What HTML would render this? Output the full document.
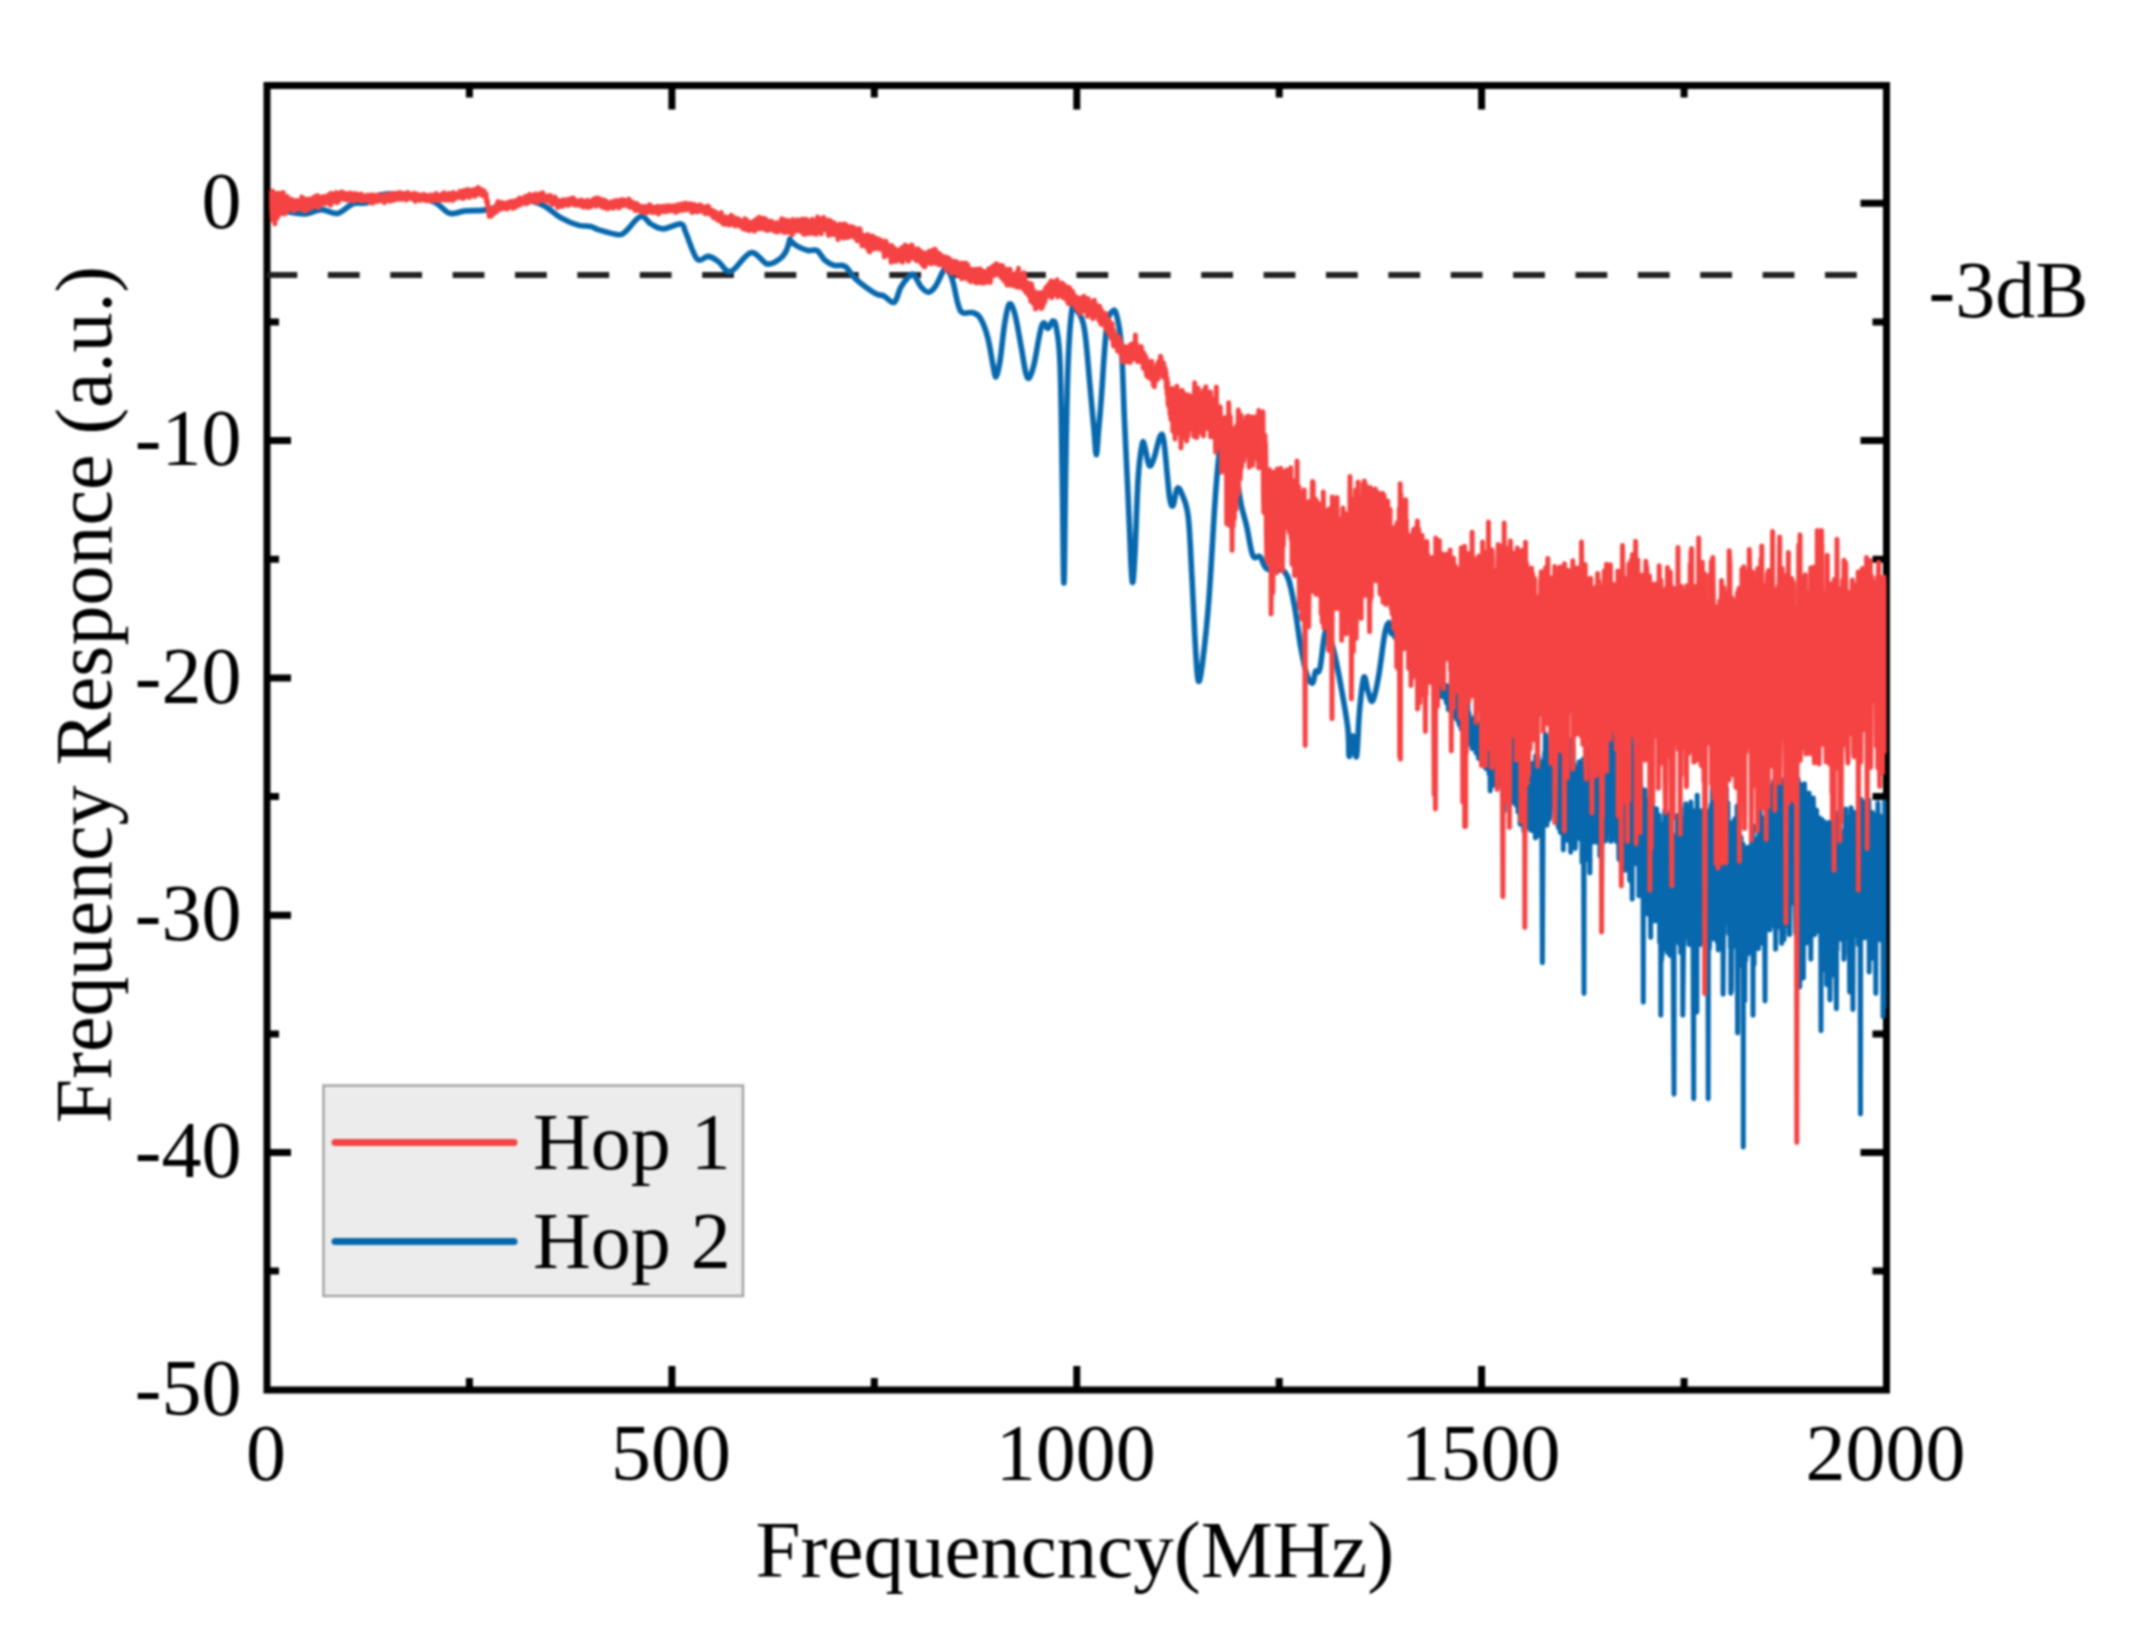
<!DOCTYPE html>
<html lang="en">
<head>
<meta charset="utf-8">
<title>Frequency response</title>
<style>
html,body{margin:0;padding:0;background:#fff;}
body{width:2156px;height:1641px;overflow:hidden;}
svg{display:block;filter:blur(0.9px);}
</style>
</head>
<body>
<svg width="2156" height="1641" viewBox="0 0 2156 1641">
<defs><clipPath id="plot"><rect x="267.0" y="85.5" width="1619.5" height="1304.5"/></clipPath></defs>
<rect width="2156" height="1641" fill="#fff"/>
<g stroke="#000" stroke-width="7" fill="none" stroke-linecap="butt">
<rect x="267.0" y="85.5" width="1619.5" height="1304.5"/>
<path d="M469.4 85.5 v12 M469.4 1390.0 v-12"/>
<path d="M671.9 85.5 v24 M671.9 1390.0 v-24"/>
<path d="M874.3 85.5 v12 M874.3 1390.0 v-12"/>
<path d="M1076.8 85.5 v24 M1076.8 1390.0 v-24"/>
<path d="M1279.2 85.5 v12 M1279.2 1390.0 v-12"/>
<path d="M1481.6 85.5 v24 M1481.6 1390.0 v-24"/>
<path d="M1684.1 85.5 v12 M1684.1 1390.0 v-12"/>
<path d="M267.0 203.3 h24 M1886.5 203.3 h-26"/>
<path d="M267.0 322.0 h12 M1886.5 322.0 h-14"/>
<path d="M267.0 440.6 h24 M1886.5 440.6 h-26"/>
<path d="M267.0 559.2 h12 M1886.5 559.2 h-14"/>
<path d="M267.0 677.9 h24 M1886.5 677.9 h-26"/>
<path d="M267.0 796.5 h12 M1886.5 796.5 h-14"/>
<path d="M267.0 915.2 h24 M1886.5 915.2 h-26"/>
<path d="M267.0 1033.9 h12 M1886.5 1033.9 h-14"/>
<path d="M267.0 1152.5 h24 M1886.5 1152.5 h-26"/>
<path d="M267.0 1271.1 h12 M1886.5 1271.1 h-14"/>
</g>
<line x1="265.5" y1="275" x2="1886.5" y2="275" stroke="#222" stroke-width="6" stroke-dasharray="31.8 30.58" clip-path="url(#plot)"/>
<g clip-path="url(#plot)" fill="none" stroke-linejoin="round" stroke-linecap="round">
<path d="M277.0 210.5C278.4 210.7 280.0 210.8 285.0 211.4C290.1 212.0 298.5 214.2 305.1 213.9C311.6 213.6 315.5 209.7 321.4 209.6C327.2 209.5 332.0 214.4 337.6 213.4C343.3 212.3 347.3 205.8 352.7 203.8C358.1 201.9 362.7 204.2 367.7 202.6C372.7 201.0 373.7 196.5 380.2 195.1C386.8 193.6 394.5 193.5 404.0 194.6C413.5 195.7 424.9 198.1 432.8 201.3C440.7 204.6 443.8 210.5 447.8 212.6C451.9 214.7 452.2 213.4 455.4 213.1C458.5 212.8 460.2 211.4 465.4 210.9C470.6 210.3 477.9 210.9 484.2 210.1C490.5 209.3 493.5 208.2 500.4 206.4C507.4 204.6 515.3 200.3 523.0 200.1C530.7 199.9 536.3 201.9 543.0 205.1C549.8 208.3 554.2 214.0 560.6 217.6C566.9 221.2 572.7 223.6 578.1 225.1C583.5 226.7 587.0 225.6 590.6 226.4C594.2 227.2 593.2 228.2 598.1 229.6C603.1 231.1 613.2 234.3 618.2 234.7C623.1 235.0 621.6 234.7 625.7 231.4C629.7 228.1 636.2 217.7 640.7 216.4C645.2 215.0 646.7 221.6 650.7 223.9C654.8 226.1 657.8 228.9 663.2 228.9C668.7 228.9 676.7 223.2 680.8 223.9C684.8 224.6 682.9 226.3 685.8 232.7C688.7 239.0 693.0 254.7 697.1 259.0C701.1 263.2 704.5 256.0 708.3 256.4C712.2 256.9 714.3 258.8 718.3 261.5C722.4 264.2 725.0 273.1 730.9 271.5C736.7 269.9 744.4 254.0 750.9 252.7C757.4 251.3 762.0 262.8 767.2 264.0C772.4 265.1 776.3 261.2 779.7 259.0C783.1 256.7 784.2 254.8 786.0 251.4C787.8 248.1 789.0 242.2 789.7 240.2C790.5 238.2 788.9 239.3 790.2 240.3C791.5 241.3 793.5 244.0 796.7 245.9C799.9 247.7 804.2 249.7 807.8 250.5C811.5 251.3 814.1 248.8 817.1 250.5C820.1 252.2 821.5 257.1 824.5 259.8C827.5 262.4 830.1 264.2 833.8 265.3C837.5 266.5 841.3 264.1 844.9 266.3C848.6 268.4 850.5 273.7 854.2 277.4C857.9 281.1 861.3 283.7 865.3 286.7C869.4 289.7 873.1 292.4 876.5 294.1C879.8 295.8 880.7 294.5 883.9 296.0C887.1 297.5 891.1 304.0 894.1 302.4C897.1 300.9 898.1 292.1 900.6 287.6C903.1 283.1 905.7 279.7 908.0 277.4C910.4 275.1 911.2 272.9 913.6 274.6C915.9 276.3 918.3 283.5 921.0 286.7C923.7 289.9 925.8 292.4 928.4 292.2C931.1 292.1 933.2 289.6 935.8 285.8C938.5 281.9 941.3 273.9 943.3 270.9C945.3 267.9 945.3 267.4 947.0 269.1C948.6 270.7 950.5 273.8 952.5 280.2C954.5 286.5 956.3 298.5 958.1 304.3C959.9 310.1 960.1 311.2 962.7 312.7C965.4 314.2 969.8 311.7 972.9 312.7C976.1 313.7 977.7 313.7 980.4 318.2C983.0 322.7 985.5 328.8 987.8 337.7C990.1 346.5 991.9 360.4 993.4 367.4C994.9 374.4 995.0 377.7 996.1 376.7C997.3 375.7 998.3 371.2 999.9 361.8C1001.4 352.5 1002.8 335.1 1004.5 324.7C1006.2 314.4 1007.3 306.3 1009.1 304.3C1011.0 302.3 1012.5 305.9 1014.7 313.6C1016.9 321.3 1019.2 336.3 1021.2 347.0C1023.2 357.7 1024.3 367.4 1025.8 372.9C1027.3 378.5 1028.0 379.3 1029.5 377.6C1031.0 375.9 1032.3 371.5 1034.2 363.7C1036.0 355.8 1038.1 341.3 1039.7 334.0C1041.4 326.6 1041.9 323.9 1043.5 322.9C1045.0 321.9 1046.4 328.8 1048.1 328.4C1049.8 328.1 1051.2 321.0 1052.7 321.0C1054.2 321.0 1055.1 320.4 1056.4 328.4C1057.8 336.4 1059.0 338.2 1060.1 365.5C1061.2 392.8 1061.6 440.9 1062.3 480.0C1063.0 519.1 1063.3 583.0 1063.9 583.0C1064.5 583.0 1064.8 519.1 1065.5 480.0C1066.2 440.9 1066.8 397.0 1068.0 366.0C1069.2 335.0 1070.6 318.1 1072.2 308.0C1073.8 297.9 1074.6 306.3 1076.8 310.0C1079.0 313.7 1082.0 315.1 1084.3 328.4C1086.6 341.7 1088.1 365.7 1089.8 384.0C1091.5 402.3 1092.8 417.3 1094.0 430.0C1095.2 442.7 1095.5 454.6 1096.3 454.6C1097.1 454.6 1097.8 439.4 1098.6 430.0C1099.4 420.6 1099.6 420.9 1101.0 402.6C1102.4 384.3 1104.5 344.8 1106.5 328.4C1108.5 312.0 1110.3 314.0 1112.1 311.7C1113.9 309.4 1115.0 309.0 1116.7 315.4C1118.4 321.8 1120.0 328.0 1121.4 347.0C1122.8 366.0 1123.3 395.3 1124.5 421.0C1125.7 446.7 1126.6 464.5 1127.8 490.0C1129.0 515.5 1130.0 546.2 1130.9 562.8C1131.8 579.4 1132.2 584.2 1132.9 582.0C1133.6 579.8 1134.1 569.4 1135.1 550.6C1136.0 531.8 1137.0 496.4 1138.2 477.5C1139.4 458.6 1140.8 451.7 1141.9 445.8C1143.0 439.9 1143.0 441.1 1144.3 444.6C1145.6 448.1 1147.4 462.9 1149.2 465.3C1150.9 467.7 1152.1 463.3 1154.1 458.0C1156.0 452.7 1158.4 439.1 1160.2 436.1C1161.9 433.0 1162.5 433.5 1163.8 440.9C1165.1 448.4 1166.4 467.0 1167.5 477.5C1168.6 488.0 1168.9 494.4 1169.9 499.4C1170.9 504.5 1171.8 507.5 1173.1 505.5C1174.4 503.6 1175.6 490.4 1177.2 488.5C1178.8 486.5 1180.1 489.5 1182.1 494.6C1184.1 499.6 1186.4 502.0 1188.2 516.5C1189.9 531.0 1190.5 551.3 1191.8 575.0C1193.2 598.7 1194.3 629.0 1195.5 648.1C1196.7 667.2 1197.1 678.8 1198.4 681.0C1199.7 683.2 1200.9 675.0 1202.8 660.3C1204.7 645.6 1206.7 627.9 1208.9 599.4C1211.1 570.9 1213.2 527.3 1215.0 501.9C1216.8 476.4 1217.3 470.3 1218.7 458.0C1220.0 445.7 1220.8 439.3 1222.3 433.6C1223.9 427.9 1225.4 425.4 1227.2 426.3C1228.9 427.2 1230.5 431.5 1232.1 438.5C1233.6 445.5 1234.2 453.9 1235.7 465.3C1237.3 476.7 1238.6 490.9 1240.6 501.9C1242.6 512.8 1244.5 516.6 1246.7 526.3C1248.9 535.9 1250.4 550.0 1252.8 555.5C1255.2 561.0 1257.5 554.3 1260.1 556.7C1262.7 559.2 1262.8 566.4 1267.3 569.2C1271.7 571.9 1280.1 566.3 1284.8 572.1C1289.6 577.9 1290.7 587.7 1293.6 601.3C1296.5 615.0 1298.5 635.0 1300.9 648.1C1303.3 661.3 1304.7 668.1 1306.8 674.5C1308.9 680.8 1311.0 683.8 1312.6 683.2C1314.2 682.7 1314.2 674.2 1315.5 671.5C1316.8 668.9 1318.1 676.0 1319.9 668.6C1321.8 661.2 1323.4 634.3 1325.8 630.6C1328.1 626.9 1330.4 638.7 1333.1 648.1C1335.7 657.6 1337.8 669.0 1340.4 683.2C1343.0 697.4 1346.1 713.9 1347.7 727.1C1349.3 740.3 1348.3 754.8 1349.2 756.4C1350.1 757.9 1351.4 735.9 1352.7 735.9C1354.0 735.9 1355.3 760.6 1356.5 756.4C1357.7 752.1 1358.1 726.7 1359.4 712.5C1360.7 698.3 1362.2 681.1 1363.8 677.4C1365.4 673.7 1366.6 687.8 1368.2 692.0C1369.8 696.2 1370.7 703.4 1372.6 700.8C1374.4 698.2 1376.3 689.0 1378.4 677.4C1380.5 665.8 1382.7 645.9 1384.3 636.4C1385.8 627.0 1386.7 626.8 1387.2 624.7" stroke="#0768ad" stroke-width="5.6"/>
<polyline points="1387.2,624.7 1387.5,628.2 1387.6,624.0 1388.7,628.5 1388.8,624.9 1388.9,622.3 1389.6,629.9 1390.0,623.5 1390.3,631.7 1390.5,626.2 1391.1,633.8 1391.4,627.9 1391.7,632.9 1392.4,633.5 1392.7,629.8 1393.1,630.7 1393.6,633.3 1393.7,630.6 1394.0,634.4 1394.6,637.2 1394.9,632.7 1395.7,629.6 1396.0,637.9 1396.7,640.2 1396.8,632.4 1396.9,634.1 1397.1,640.9 1397.8,642.6 1398.1,634.7 1398.7,633.2 1398.8,641.3 1399.3,642.4 1400.0,637.0 1400.5,637.7 1400.8,641.6 1400.9,637.1 1401.5,642.8 1401.7,643.9 1402.1,637.2 1402.5,638.6 1402.9,645.2 1403.5,645.7 1403.6,637.9 1404.5,636.5 1404.7,643.3 1405.1,638.9 1405.6,644.8 1405.9,645.8 1406.2,640.8 1406.5,638.7 1406.9,648.2 1407.3,638.7 1407.4,647.4 1408.1,649.0 1408.6,639.7 1409.1,650.8 1409.5,639.7 1410.0,649.0 1410.3,639.0 1411.0,642.3 1411.2,650.2 1411.4,640.2 1411.5,647.6 1412.1,646.3 1412.2,649.9 1413.2,641.8 1413.6,648.9 1413.8,650.5 1413.9,643.5 1414.8,652.0 1415.2,640.8 1415.3,644.6 1416.0,652.2 1416.5,643.2 1416.6,651.2 1417.1,645.1 1417.2,652.3 1417.9,646.4 1418.0,651.0 1418.6,655.2 1419.2,646.8 1419.5,653.9 1419.8,647.6 1420.3,656.7 1420.4,646.0 1421.1,647.0 1421.6,656.8 1421.7,657.0 1421.9,652.4 1422.5,651.3 1423.1,660.0 1423.4,658.8 1423.8,651.5 1424.1,652.7 1424.4,665.9 1425.2,663.4 1425.3,653.4 1426.0,658.7 1426.2,663.2 1426.7,667.8 1427.1,659.8 1427.4,658.4 1427.8,669.3 1428.3,670.6 1428.5,659.3 1429.1,653.4 1429.6,671.0 1429.8,660.7 1430.4,673.3 1430.7,666.4 1431.1,673.7 1431.4,678.9 1431.9,668.5 1432.1,676.0 1432.3,666.5 1433.0,670.1 1433.5,676.5 1433.7,670.6 1434.2,679.3 1434.7,665.6 1435.0,682.4 1435.6,670.1 1435.7,683.6 1436.3,676.1 1436.4,682.0 1437.2,687.1 1437.3,676.3 1437.7,692.5 1438.2,676.6 1438.5,690.5 1438.7,679.2 1439.4,693.6 1440.0,678.9 1440.2,681.6 1440.6,691.5 1441.2,693.7 1441.4,681.9 1441.8,676.8 1442.0,696.7 1442.7,691.5 1443.0,677.7 1443.6,686.5 1444.0,696.7 1444.6,686.4 1444.7,694.0 1445.2,686.5 1445.6,699.4 1445.8,688.7 1446.3,702.6 1446.7,685.5 1447.1,702.0 1447.6,702.7 1447.9,691.2 1448.3,709.7 1448.7,689.2 1448.9,691.8 1449.2,709.2 1449.9,709.4 1450.1,692.9 1450.5,690.5 1450.6,709.6 1451.3,697.8 1451.6,711.8 1452.6,695.9 1452.7,708.8 1453.2,701.0 1453.5,711.3 1453.7,714.2 1454.2,696.5 1454.6,698.8 1454.7,715.9 1455.4,699.0 1455.7,717.5 1456.7,716.6 1456.8,694.7 1457.1,707.6 1457.3,720.0 1458.2,716.6 1458.3,701.8 1458.6,703.8 1459.0,724.0 1459.4,700.4 1459.6,725.2 1460.1,701.6 1460.4,719.9 1461.2,729.0 1461.3,704.5 1462.0,711.7 1462.3,723.7 1462.9,712.4 1463.2,728.5 1463.4,710.5 1463.7,732.5 1464.2,726.8 1464.8,706.7 1465.1,732.7 1465.5,711.8 1465.9,711.8 1466.2,733.8 1466.7,737.9 1467.0,716.8 1467.3,734.6 1467.7,699.7 1468.5,735.6 1468.7,717.0 1468.9,712.7 1469.3,743.8 1469.9,724.4 1470.4,737.4 1470.5,721.3 1470.7,741.8 1471.3,724.2 1471.7,743.3 1472.4,748.8 1472.6,720.9 1473.2,728.7 1473.4,739.1 1473.9,717.8 1474.0,738.5 1474.6,719.3 1474.7,748.0 1475.3,745.3 1475.7,723.2 1476.1,753.2 1476.7,726.2 1477.3,744.3 1477.6,722.9 1478.2,748.5 1478.4,733.1 1478.5,758.5 1478.6,731.7 1479.5,753.1 1479.9,735.5 1480.6,745.3 1480.8,728.2 1480.9,750.8 1481.3,723.8 1481.9,764.2 1482.1,739.0 1482.7,760.1 1483.0,737.3 1483.3,736.0 1483.8,760.6 1484.5,764.5 1484.6,744.4 1485.3,736.4 1485.4,762.1 1485.7,768.5 1486.2,746.3 1486.5,764.7 1487.0,753.4 1487.4,739.2 1487.6,764.5 1488.2,739.3 1488.5,762.3 1489.1,774.1 1489.3,738.0 1489.8,746.0 1490.2,791.0 1490.6,771.4 1491.1,756.2 1491.8,779.9 1492.0,750.1 1492.2,776.4 1492.7,751.2 1493.1,785.6 1493.3,762.0 1494.2,781.5 1494.4,751.7 1494.7,756.1 1495.0,773.4 1495.6,780.6 1495.7,755.5 1496.3,753.1 1496.7,781.9 1496.9,779.1 1497.5,762.2 1498.0,753.9 1498.3,781.2 1498.7,782.8 1499.1,760.4 1499.7,775.6 1500.0,749.5 1500.3,773.0 1500.6,758.5 1500.9,761.4 1501.1,786.6 1501.7,745.2 1502.3,782.3 1502.6,786.4 1502.8,756.7 1503.6,770.8 1503.9,794.0 1504.1,811.3 1504.2,764.1 1504.9,765.1 1505.2,783.4 1505.9,773.2 1506.0,787.1 1506.5,787.7 1506.8,760.3 1507.6,772.6 1508.0,796.9 1508.6,764.5 1508.7,797.1 1509.0,794.3 1509.1,767.0 1509.9,765.0 1510.4,790.5 1511.0,764.1 1511.2,802.6 1511.4,792.4 1511.6,753.2 1512.4,737.9 1512.8,801.8 1513.1,794.4 1513.6,766.1 1513.8,761.2 1513.9,796.9 1514.5,798.8 1515.0,766.8 1515.4,764.4 1515.7,804.7 1516.1,797.3 1516.5,748.9 1517.1,760.6 1517.6,807.4 1517.8,753.5 1518.0,812.0 1518.6,800.1 1518.7,767.1 1519.3,808.9 1519.9,765.7 1520.1,824.2 1520.5,783.7 1521.4,800.5 1521.6,768.4 1521.7,771.2 1522.0,817.1 1522.6,781.1 1523.0,812.6 1523.4,785.3 1523.8,831.1 1524.2,811.2 1524.3,762.5 1525.3,774.3 1525.6,816.3 1525.7,774.0 1525.8,826.9 1526.7,774.3 1527.2,822.6 1527.5,786.4 1527.9,823.1 1528.1,752.2 1528.3,815.7 1529.1,817.8 1529.3,776.3 1530.0,829.5 1530.4,785.5 1530.5,826.3 1530.8,784.7 1531.4,830.5 1531.6,771.8 1532.4,830.4 1532.5,791.2 1533.1,763.3 1533.6,809.4 1533.7,790.9 1534.0,829.5 1534.5,792.1 1534.9,820.7 1535.4,837.9 1535.7,755.8 1536.1,792.9 1536.8,836.3 1537.0,767.1 1537.1,805.4 1538.1,756.2 1538.3,835.7 1538.8,821.5 1539.2,766.1 1539.5,782.3 1540.0,808.9 1540.1,827.9 1540.8,779.1 1541.1,767.8 1541.3,823.8 1541.7,774.1 1542.4,962.7 1543.0,823.4 1543.2,769.9 1543.3,760.4 1543.4,822.2 1544.1,807.1 1544.7,752.5 1544.9,795.9 1545.4,734.2 1545.7,808.0 1546.2,736.7 1546.5,742.5 1547.0,825.3 1547.6,795.5 1548.0,750.0 1548.1,818.0 1548.6,743.6 1549.0,761.1 1549.2,819.3 1549.9,812.1 1550.1,747.1 1550.6,753.5 1550.9,797.3 1551.4,803.2 1551.7,754.6 1552.1,796.9 1552.5,748.6 1553.3,754.3 1553.6,796.9 1553.7,808.5 1554.1,728.7 1554.9,758.6 1555.0,803.1 1555.3,809.7 1555.5,755.6 1556.1,808.6 1556.5,752.4 1557.0,746.5 1557.3,805.6 1557.7,767.0 1558.4,827.8 1558.6,737.7 1559.2,826.7 1559.5,737.8 1559.6,804.8 1560.3,832.5 1560.5,749.8 1561.0,734.7 1561.2,802.7 1562.2,753.3 1562.4,821.4 1562.6,804.8 1563.1,750.3 1563.3,850.0 1563.4,755.4 1564.1,747.4 1564.4,817.6 1565.3,769.3 1565.6,822.0 1565.7,747.4 1566.0,817.5 1566.6,803.3 1567.0,745.3 1567.7,840.4 1567.9,764.5 1568.4,827.5 1568.8,752.1 1568.9,763.9 1569.4,831.1 1569.7,808.3 1570.3,771.9 1570.7,852.2 1571.2,769.2 1571.5,816.5 1571.6,739.9 1572.4,820.3 1572.5,759.8 1573.1,745.4 1573.6,841.0 1573.8,763.7 1574.2,817.0 1574.5,833.7 1574.6,778.7 1575.3,848.4 1575.6,779.0 1576.1,820.7 1576.8,770.1 1577.4,786.7 1577.5,817.6 1578.1,825.8 1578.4,767.3 1578.6,831.9 1579.2,761.8 1579.4,838.6 1579.8,768.5 1580.1,827.2 1580.2,770.5 1581.1,802.2 1581.5,841.3 1581.9,777.7 1582.0,862.0 1582.9,759.6 1583.0,849.0 1583.3,780.6 1584.0,993.4 1584.1,776.8 1584.6,839.8 1585.0,845.1 1585.3,809.1 1585.8,774.6 1586.1,859.6 1586.8,837.1 1586.9,786.1 1587.4,770.3 1587.5,833.2 1588.6,750.8 1588.8,841.9 1589.4,748.0 1589.6,836.1 1589.9,872.9 1590.3,783.7 1591.0,828.2 1591.2,775.6 1591.7,842.7 1591.9,773.5 1592.4,747.2 1592.8,838.0 1593.3,834.1 1593.4,759.7 1593.8,759.8 1594.1,838.9 1594.6,841.6 1594.7,772.1 1595.5,754.9 1595.7,824.1 1596.2,842.3 1596.4,760.7 1597.0,824.9 1597.2,748.9 1597.7,834.5 1597.8,768.5 1598.5,763.2 1599.0,822.6 1599.4,761.7 1599.9,856.1 1600.4,812.1 1600.8,764.4 1601.1,757.5 1601.6,883.1 1602.1,810.7 1602.2,754.6 1602.5,747.3 1603.2,814.1 1603.9,766.2 1604.0,825.4 1604.7,789.2 1604.8,808.7 1604.9,742.5 1605.5,841.1 1605.7,811.9 1606.2,767.4 1606.6,814.4 1606.8,733.5 1607.4,769.2 1607.7,827.9 1608.4,831.8 1608.8,748.4 1609.3,802.9 1609.4,756.8 1609.7,809.9 1610.0,752.7 1610.7,841.4 1610.9,758.0 1611.8,739.5 1611.9,823.1 1612.3,732.3 1612.6,834.4 1613.0,768.7 1613.5,797.9 1613.8,807.2 1613.9,735.4 1614.8,755.4 1615.0,818.9 1615.8,841.2 1615.9,759.5 1616.3,820.4 1616.5,756.7 1617.3,840.0 1617.5,728.6 1617.9,760.7 1618.4,814.4 1619.0,859.5 1619.2,753.7 1619.5,760.1 1619.7,818.4 1620.3,757.8 1620.8,808.8 1620.9,751.3 1621.4,863.5 1621.7,727.2 1622.4,821.5 1622.9,735.5 1623.0,836.5 1623.4,836.7 1623.6,759.0 1624.6,828.2 1624.7,760.2 1625.1,731.5 1625.2,870.2 1626.0,810.7 1626.4,735.5 1626.5,804.5 1626.8,767.6 1627.3,843.7 1627.9,759.0 1628.4,771.2 1628.7,857.8 1629.3,748.0 1629.4,806.4 1629.7,880.5 1630.1,773.3 1631.1,863.9 1631.2,737.7 1631.3,869.2 1631.6,775.3 1632.2,899.2 1632.3,782.7 1633.3,841.5 1633.5,772.2 1633.7,834.1 1634.3,757.6 1634.5,789.6 1635.0,844.0 1635.5,839.2 1636.0,801.1 1636.3,744.6 1636.7,863.9 1637.4,846.7 1637.6,822.2 1637.9,789.5 1638.0,853.9 1638.8,775.6 1638.9,895.7 1639.7,781.9 1639.9,867.6 1640.2,851.0 1640.4,752.8 1641.1,837.4 1641.4,803.9 1641.8,883.5 1642.0,809.4 1642.5,860.4 1642.9,808.4 1643.3,1002.2 1643.5,796.5 1644.1,858.7 1644.6,789.7 1645.2,878.7 1645.3,828.1 1646.0,820.6 1646.2,878.8 1646.6,816.3 1646.7,891.5 1647.5,800.2 1647.7,913.9 1648.1,821.1 1648.2,914.3 1649.3,839.7 1649.5,896.2 1649.8,818.9 1650.1,877.2 1650.7,937.5 1650.8,808.9 1651.3,900.2 1651.9,803.0 1652.4,801.8 1652.5,881.8 1652.9,840.7 1653.4,899.4 1654.0,848.7 1654.1,918.2 1654.8,827.5 1655.1,921.1 1655.3,883.5 1655.6,832.9 1656.4,872.4 1656.6,808.7 1657.1,892.1 1657.5,837.4 1657.9,917.2 1658.2,842.7 1658.9,916.3 1659.2,815.3 1659.3,863.6 1659.7,942.6 1660.5,840.3 1660.8,1015.3 1661.2,824.1 1661.4,960.7 1662.3,951.8 1662.4,831.6 1662.7,944.5 1662.9,828.2 1663.5,833.2 1663.9,949.2 1664.6,880.8 1664.7,810.4 1665.2,920.9 1665.4,854.9 1665.8,810.4 1666.2,913.2 1667.0,939.5 1667.2,828.6 1667.4,839.7 1667.9,953.1 1668.1,827.5 1668.3,912.8 1668.9,929.4 1669.6,832.9 1669.7,813.5 1670.1,955.5 1670.6,833.3 1671.0,923.4 1671.3,945.3 1671.8,842.0 1672.5,928.0 1672.6,843.2 1672.9,841.7 1673.1,939.5 1674.0,1094.3 1674.2,857.3 1674.7,921.3 1675.2,835.5 1675.3,920.3 1675.9,853.5 1676.4,938.2 1676.7,839.0 1677.4,925.3 1677.5,815.5 1678.2,830.4 1678.4,921.4 1678.7,835.8 1679.2,943.4 1679.6,849.2 1679.8,935.3 1680.6,808.2 1680.7,952.4 1681.2,829.6 1681.3,943.0 1681.9,909.6 1682.4,818.6 1682.6,830.3 1682.8,1015.3 1683.6,939.0 1683.7,833.9 1684.5,841.4 1684.6,911.0 1685.3,862.6 1685.4,937.2 1685.8,803.8 1686.3,923.6 1686.8,918.7 1686.9,810.7 1687.5,908.1 1687.7,839.6 1688.3,926.4 1688.4,828.3 1689.0,944.4 1689.1,857.3 1690.0,811.0 1690.3,944.4 1690.9,802.0 1691.2,934.8 1691.5,912.9 1692.0,863.3 1692.6,904.0 1692.7,810.4 1692.9,847.1 1693.0,935.8 1693.7,1098.7 1693.8,823.9 1694.7,852.5 1694.9,969.4 1695.4,836.9 1695.8,918.2 1696.2,940.8 1696.7,825.0 1696.9,1011.9 1697.2,795.2 1698.0,885.1 1698.3,834.9 1698.5,915.4 1698.6,864.5 1699.5,836.8 1700.0,912.0 1700.3,944.4 1700.8,863.5 1701.4,941.1 1701.5,810.7 1701.7,919.7 1702.4,822.2 1702.5,893.0 1703.0,815.3 1703.9,916.6 1704.0,820.6 1704.3,859.4 1704.6,907.2 1704.9,813.1 1705.5,932.3 1705.9,821.9 1706.4,909.4 1706.6,822.3 1706.8,907.6 1707.6,915.8 1707.8,815.0 1708.2,1098.7 1708.6,811.1 1709.2,825.2 1709.3,948.8 1710.3,927.3 1710.4,814.0 1710.7,889.3 1711.2,809.6 1711.3,804.7 1711.5,890.2 1712.1,903.3 1712.4,768.6 1712.9,812.8 1713.6,938.8 1713.8,848.2 1714.4,785.2 1715.0,782.0 1715.1,930.6 1715.4,799.7 1715.5,906.7 1716.3,791.6 1716.6,898.7 1717.1,941.7 1717.5,792.9 1718.0,827.1 1718.2,950.1 1718.7,888.6 1718.9,795.4 1719.5,900.8 1719.8,783.0 1720.5,798.8 1720.7,929.3 1720.9,869.0 1721.3,779.7 1721.9,927.7 1722.3,835.6 1722.8,780.4 1723.1,994.2 1723.8,880.5 1723.9,812.3 1724.3,921.6 1724.4,845.0 1725.4,905.6 1725.6,792.9 1726.2,922.1 1726.4,788.1 1726.5,878.2 1727.2,807.7 1727.8,902.4 1727.9,803.1 1728.1,849.4 1728.8,933.7 1729.1,831.2 1729.4,885.8 1729.9,843.1 1730.3,947.4 1730.6,823.1 1730.8,993.3 1731.5,989.5 1732.0,851.1 1732.7,936.7 1732.8,822.3 1733.1,826.1 1733.3,913.8 1733.7,938.0 1734.0,844.1 1734.8,818.7 1735.0,935.9 1735.6,824.0 1735.9,923.4 1736.4,822.2 1736.6,947.7 1737.1,806.0 1737.6,1032.9 1738.0,829.7 1738.4,966.6 1738.8,843.0 1739.0,962.0 1739.5,948.6 1739.8,859.9 1740.6,947.5 1740.7,841.0 1741.0,837.0 1741.5,935.1 1742.0,892.3 1742.4,943.8 1742.8,929.5 1743.1,844.1 1743.3,1147.0 1743.4,867.5 1744.5,877.9 1744.7,1000.9 1745.0,891.5 1745.6,958.7 1745.7,960.6 1745.9,871.9 1746.9,944.4 1747.1,860.9 1747.9,954.1 1748.0,847.2 1748.2,873.8 1748.4,915.7 1749.0,926.4 1749.1,853.9 1749.9,919.6 1750.2,859.1 1750.7,853.6 1751.0,922.1 1751.7,834.2 1751.8,945.3 1752.7,917.0 1752.8,825.8 1753.0,1015.3 1753.2,857.5 1754.1,964.5 1754.4,856.7 1754.7,933.6 1755.2,859.2 1755.5,932.5 1755.8,847.9 1756.7,841.3 1756.8,925.5 1757.4,838.6 1757.6,939.4 1757.9,854.3 1758.4,948.8 1758.9,824.3 1759.0,928.8 1759.7,936.9 1760.0,807.1 1760.3,943.5 1760.8,818.9 1761.3,837.6 1761.4,915.9 1761.9,919.8 1762.2,817.8 1762.5,898.3 1763.1,834.7 1763.3,846.5 1763.7,902.4 1764.2,830.8 1764.6,923.2 1765.0,1001.0 1765.4,819.1 1766.1,899.6 1766.4,806.7 1766.5,908.6 1766.9,841.9 1767.4,805.1 1768.0,869.8 1768.2,785.4 1768.8,908.3 1769.0,807.1 1769.6,923.3 1769.7,800.4 1769.9,930.0 1771.0,904.4 1771.1,799.7 1771.5,878.0 1771.9,811.8 1772.7,825.1 1772.8,899.7 1773.0,896.2 1773.1,788.1 1773.9,780.7 1774.1,879.0 1774.5,925.8 1774.7,828.0 1775.5,793.7 1775.6,949.2 1776.3,788.8 1776.7,928.2 1777.2,789.0 1777.6,874.9 1778.2,784.2 1778.4,926.5 1778.5,880.6 1778.8,756.8 1779.4,792.4 1779.7,878.3 1780.3,797.2 1780.4,883.1 1780.9,881.6 1781.1,788.8 1781.7,943.4 1781.8,786.4 1782.5,897.0 1783.0,794.3 1783.8,779.9 1784.0,939.8 1784.4,894.5 1784.6,813.9 1785.0,888.5 1785.3,794.4 1785.7,777.4 1785.8,925.4 1786.6,886.8 1787.1,798.2 1787.4,802.2 1787.6,861.0 1788.1,788.3 1788.8,917.8 1789.3,803.1 1789.5,934.7 1789.9,806.8 1790.3,884.8 1790.8,778.3 1790.9,892.1 1791.3,814.9 1791.5,903.2 1792.2,786.4 1792.8,878.8 1793.4,861.6 1793.6,779.6 1794.0,800.4 1794.4,865.2 1794.5,820.9 1795.2,900.0 1795.7,933.2 1796.0,791.7 1796.1,896.5 1796.4,793.5 1797.2,783.7 1797.6,865.6 1797.7,880.3 1798.1,779.0 1798.5,896.7 1799.0,817.4 1799.6,783.6 1799.7,987.0 1800.5,886.4 1800.8,824.2 1801.0,798.6 1801.1,891.0 1802.0,916.6 1802.4,809.7 1802.6,905.6 1802.8,825.7 1803.4,978.0 1803.6,785.0 1804.5,783.8 1804.8,903.5 1804.9,943.6 1805.5,800.1 1806.0,943.2 1806.4,847.8 1806.5,910.0 1806.9,795.3 1807.6,922.8 1808.0,827.5 1808.1,915.8 1808.4,818.5 1809.1,793.1 1809.5,876.0 1810.0,828.5 1810.4,898.6 1810.5,831.6 1810.8,959.2 1811.5,841.3 1812.0,920.2 1812.4,908.1 1812.5,810.7 1813.0,921.7 1813.3,798.1 1813.8,828.1 1814.4,919.4 1814.7,934.8 1815.0,818.5 1815.4,834.6 1815.8,930.1 1816.6,810.0 1816.8,931.5 1817.1,904.7 1817.2,839.5 1818.2,840.8 1818.3,891.2 1818.8,841.3 1819.0,923.0 1819.7,894.8 1819.8,818.0 1820.7,838.8 1820.8,937.9 1821.0,1030.7 1821.3,832.5 1821.7,960.3 1822.1,838.6 1822.6,820.1 1822.7,956.7 1823.3,859.1 1823.8,969.6 1824.4,849.0 1824.6,933.4 1825.2,844.8 1825.4,946.8 1826.3,928.1 1826.4,822.8 1826.7,984.7 1827.2,864.1 1827.3,847.2 1827.5,920.6 1828.6,948.0 1828.8,829.0 1828.9,932.7 1829.5,822.2 1829.9,999.9 1830.4,860.2 1830.6,975.5 1830.7,847.0 1831.6,940.5 1831.8,868.2 1832.6,840.4 1832.8,975.1 1833.3,835.1 1833.6,938.2 1833.7,825.8 1834.0,935.3 1834.8,918.5 1834.9,814.7 1835.3,812.2 1835.8,947.6 1836.4,1008.7 1836.8,831.4 1837.0,950.0 1837.4,840.1 1837.7,834.3 1838.2,925.7 1838.9,818.7 1839.1,903.1 1839.3,885.0 1839.9,830.3 1840.5,939.3 1840.6,831.3 1840.9,909.1 1841.6,837.0 1841.8,898.0 1842.0,843.7 1842.5,903.6 1842.9,837.7 1843.8,831.0 1843.9,959.2 1844.3,952.5 1844.6,832.8 1845.4,922.3 1845.6,817.1 1845.8,809.0 1846.0,893.3 1847.0,839.6 1847.2,936.1 1847.6,822.5 1847.8,920.8 1848.2,933.3 1848.7,843.8 1849.3,882.1 1849.6,992.1 1849.8,921.7 1850.3,816.9 1850.7,914.3 1851.1,807.8 1851.5,881.9 1851.9,815.0 1852.3,817.3 1852.7,913.4 1852.9,1009.6 1853.5,812.2 1853.9,827.1 1854.0,936.0 1854.6,827.7 1855.2,902.7 1855.5,824.2 1855.8,916.7 1856.2,837.7 1856.4,897.7 1856.9,880.7 1857.0,812.4 1857.8,817.6 1858.3,904.3 1858.5,944.7 1858.8,816.6 1859.4,919.9 1859.9,820.6 1860.5,1114.1 1860.8,808.2 1861.1,799.2 1861.4,888.0 1862.0,837.3 1862.1,888.7 1862.9,910.7 1863.0,857.3 1863.3,883.6 1863.6,809.2 1864.5,938.1 1864.6,839.9 1864.9,802.6 1865.1,915.7 1865.9,936.7 1866.4,822.2 1866.5,809.2 1866.6,932.5 1867.6,821.1 1867.9,917.6 1868.6,895.2 1868.7,800.1 1869.0,812.7 1869.2,972.0 1869.8,836.5 1870.2,909.8 1870.8,959.0 1871.0,856.4 1871.3,813.3 1872.0,899.0 1872.1,923.1 1872.4,812.6 1872.9,839.0 1873.2,931.3 1873.7,819.8 1874.3,900.9 1874.6,926.4 1874.8,815.0 1875.4,833.1 1875.8,993.4 1876.3,820.8 1876.4,888.3 1877.1,924.4 1877.5,815.7 1877.7,939.5 1877.9,802.9 1879.1,895.9 1879.2,835.6 1879.9,936.8 1880.0,816.0 1880.3,921.8 1880.4,830.6 1881.0,940.3 1881.5,820.5 1881.9,826.8 1882.2,904.6 1883.0,823.0 1883.1,1016.4 1883.5,984.4 1883.9,819.4 1884.6,1006.5 1884.7,802.1 1885.2,921.6 1885.6,811.0 1885.7,854.5 1885.9,926.4 1886.7,841.0 1886.9,916.9" stroke="#0768ad" stroke-width="5"/>
<polyline points="271.6,191.7 271.8,208.3 272.4,220.1 272.5,191.1 273.1,197.1 273.6,217.0 273.9,220.4 274.5,196.7 274.8,200.9 274.9,224.0 275.7,195.4 276.1,218.5 276.5,193.3 277.0,215.1 277.3,217.9 277.6,198.4 278.0,210.4 278.5,197.1 279.0,193.3 279.1,214.2 279.6,197.2 280.0,213.1 280.5,193.8 280.6,213.9 281.1,208.2 281.6,202.3 282.4,211.3 282.5,198.0 283.0,211.4 283.2,192.4 283.6,208.2 284.0,199.5 284.5,214.1 284.7,201.0 285.1,198.9 285.8,209.2 286.3,212.4 286.6,200.3 287.3,196.5 287.4,207.7 287.7,202.5 288.1,210.2 288.3,207.3 288.7,201.7 289.7,209.1 289.8,201.7 290.3,203.7 290.5,208.1 291.1,209.5 291.2,199.2 291.6,209.1 291.8,201.7 292.7,202.5 292.9,207.8 293.1,200.2 293.8,210.9 294.3,208.6 294.6,200.7 294.8,202.2 295.0,209.4 295.7,208.1 296.2,201.1 296.3,205.7 297.0,200.4 297.7,201.5 297.8,207.6 298.1,207.6 298.2,202.2 298.7,209.2 299.0,203.5 299.9,207.3 300.1,201.5 300.9,208.6 301.0,201.9 301.2,208.6 301.8,196.9 302.3,209.1 302.5,203.8 303.0,198.2 303.2,206.8 303.9,198.5 304.1,211.0 304.3,206.4 304.6,199.9 305.5,201.2 305.8,205.8 306.1,210.6 306.5,201.4 306.8,209.7 307.2,199.4 307.5,208.9 307.8,201.3 308.3,204.5 308.9,201.5 309.3,199.0 309.8,204.8 310.5,199.0 310.6,208.6 310.8,204.1 311.2,198.9 311.9,204.5 312.2,200.6 312.4,203.7 312.5,198.9 313.2,199.9 313.4,205.9 314.2,206.2 314.4,196.7 315.0,205.5 315.1,198.6 315.8,206.0 316.2,198.3 316.4,203.4 316.9,197.2 317.3,206.2 317.6,195.4 318.0,207.7 318.2,197.1 318.8,197.7 319.2,204.9 319.6,198.4 319.8,206.2 320.4,202.6 320.8,197.5 321.1,203.8 321.2,197.6 322.1,202.3 322.5,197.6 323.1,203.4 323.2,196.5 323.7,196.7 324.0,203.9 324.3,202.4 324.4,197.0 325.4,196.9 325.5,203.2 325.9,201.0 326.1,196.7 326.8,196.1 327.0,200.9 327.5,197.9 327.6,203.3 328.6,195.0 329.0,201.7 329.5,195.7 329.7,203.8 329.9,195.1 330.2,203.1 330.7,205.0 330.9,193.3 331.9,201.7 332.1,193.9 332.3,194.3 332.5,198.7 333.3,201.7 333.4,195.6 334.0,194.4 334.5,201.1 334.8,196.7 335.0,198.8 335.8,192.8 336.2,202.1 336.6,192.4 337.0,202.7 337.1,202.4 337.8,194.3 338.3,195.4 338.4,199.6 339.0,200.9 339.3,195.6 339.5,193.5 339.7,199.2 340.3,198.2 340.5,193.7 341.2,197.3 341.4,191.9 341.9,198.6 342.0,195.2 342.9,197.7 343.1,192.5 343.6,199.1 344.2,193.9 344.8,193.1 345.0,199.8 345.5,199.1 345.6,195.0 346.4,198.3 346.6,194.9 347.2,199.9 347.3,193.9 347.6,194.4 348.0,199.4 348.4,194.5 348.5,198.6 349.6,196.3 349.8,200.1 349.9,192.9 350.5,199.2 351.1,195.0 351.2,199.1 351.5,193.6 352.0,200.3 352.3,199.0 352.7,196.0 353.4,201.2 353.6,194.0 353.9,195.8 354.6,198.8 354.7,197.0 355.2,193.5 355.5,194.4 355.6,197.2 356.4,195.7 356.8,199.9 357.3,199.5 357.6,195.3 358.1,195.8 358.2,198.4 358.7,194.4 358.8,198.4 359.5,199.7 360.2,195.5 360.5,195.5 360.7,200.7 361.2,199.6 361.3,194.0 362.1,199.7 362.2,197.0 362.7,195.8 363.0,200.1 363.5,201.0 363.8,196.9 364.6,196.4 364.8,199.2 365.1,200.0 365.5,195.8 366.0,199.8 366.6,195.9 366.9,198.3 367.3,196.0 367.6,196.2 367.9,200.3 368.3,200.9 368.4,195.0 369.6,200.9 369.8,197.1 369.9,197.6 370.2,202.2 370.8,200.0 371.3,195.0 371.6,199.8 371.9,197.5 372.4,203.2 372.5,195.0 373.1,202.5 373.7,194.9 373.9,200.4 374.1,196.4 374.7,196.2 375.1,200.2 375.5,200.7 376.1,197.7 376.7,201.7 377.0,197.3 377.6,201.3 377.7,196.0 377.9,199.2 378.6,194.5 378.7,200.2 379.2,196.6 379.7,195.9 380.0,199.3 380.3,200.8 380.8,196.3 381.2,200.2 381.7,197.2 382.3,200.2 382.5,197.5 383.3,200.3 383.4,196.3 383.8,199.8 384.1,196.7 384.3,202.8 384.8,194.5 385.1,196.7 385.2,200.1 386.3,197.1 386.4,200.7 387.2,195.4 387.3,199.4 387.5,199.9 388.0,196.5 388.4,200.4 388.9,195.0 389.1,194.6 389.8,197.8 390.0,201.3 390.2,196.1 390.9,199.8 391.0,196.1 391.6,198.8 391.9,193.4 392.4,200.6 392.6,196.4 393.4,197.8 393.5,195.5 394.0,198.6 394.5,195.4 394.7,199.9 394.9,193.5 395.7,195.3 395.9,198.3 396.7,198.3 397.0,193.3 397.4,194.0 397.7,197.2 398.3,199.1 398.5,195.5 399.0,194.6 399.4,197.1 399.5,198.0 399.8,192.6 400.8,194.0 400.9,197.7 401.1,193.2 401.5,199.4 401.9,198.2 402.2,193.9 402.7,193.7 403.4,198.3 403.8,194.1 404.2,197.8 404.3,194.0 405.0,198.3 405.6,197.8 405.7,193.6 406.2,200.1 406.4,193.5 406.9,198.2 407.2,193.3 407.6,198.2 407.7,192.4 408.3,194.2 408.5,197.6 409.1,193.4 409.5,198.3 410.0,198.4 410.6,195.1 410.9,194.2 411.2,197.8 412.0,194.8 412.2,198.2 412.7,198.7 412.8,195.0 413.1,199.4 413.6,194.4 414.1,199.2 414.4,193.3 415.1,194.3 415.3,201.5 416.1,198.4 416.2,194.9 416.6,197.8 416.7,194.3 417.2,198.9 417.5,195.2 418.3,195.6 418.6,199.7 419.0,194.8 419.2,199.2 420.1,195.1 420.2,197.7 420.4,200.5 420.9,196.2 421.4,198.7 421.8,196.8 422.1,195.4 422.6,198.7 422.7,199.3 423.1,196.3 423.6,199.0 423.8,194.2 424.3,199.8 424.6,196.8 425.4,200.6 425.8,197.7 426.1,199.5 426.3,197.3 426.9,195.6 427.4,199.7 427.5,197.0 428.2,200.7 428.4,200.2 428.6,196.9 429.3,195.7 429.8,199.9 430.1,195.1 430.5,200.6 430.9,200.4 431.4,195.2 432.1,195.7 432.2,199.5 432.5,195.3 432.6,198.4 433.6,195.5 433.7,200.8 433.9,195.7 434.1,198.8 434.9,196.2 435.4,200.2 436.0,193.5 436.1,199.3 436.3,199.9 436.9,195.1 437.1,199.6 437.2,196.6 438.4,200.8 438.6,195.7 438.9,199.9 439.3,197.8 439.9,195.1 440.2,198.7 440.5,200.1 440.9,195.7 441.1,199.9 441.3,194.9 441.9,198.0 442.3,194.3 442.8,198.8 443.2,196.0 443.9,192.7 444.0,199.0 444.7,195.3 444.8,200.2 445.5,195.2 445.6,199.0 446.3,199.2 446.6,194.6 446.8,195.3 447.4,199.8 447.5,199.1 447.6,194.8 448.8,193.5 448.9,200.3 449.2,198.8 449.5,195.5 450.2,198.6 450.3,194.0 450.8,193.9 451.4,197.8 451.5,194.5 451.8,198.7 452.3,194.6 452.6,200.4 453.4,192.6 453.8,198.1 454.1,193.6 454.6,196.6 455.1,194.8 455.3,198.7 455.5,193.7 455.6,198.5 456.5,197.6 456.7,194.0 457.2,194.1 457.4,197.0 458.0,193.4 458.6,195.8 458.7,193.7 459.4,197.0 459.5,196.2 459.9,191.2 460.8,191.8 460.9,197.8 461.3,195.3 461.5,193.2 462.3,192.6 462.5,197.2 462.7,192.1 463.3,198.5 463.7,197.5 464.1,190.4 464.4,197.7 464.6,192.6 465.6,191.0 465.8,195.5 466.0,191.1 466.5,194.7 466.9,191.6 467.3,196.1 467.5,189.4 468.0,194.1 468.6,195.9 468.7,190.1 469.5,197.5 469.8,191.5 470.5,194.4 470.6,190.5 470.7,194.2 471.3,190.5 471.6,191.4 471.7,194.8 472.3,190.0 472.5,195.0 473.3,190.9 473.7,193.2 473.9,193.5 474.4,190.5 474.7,189.6 474.8,196.5 475.6,189.3 475.9,193.6 476.6,189.9 476.8,193.4 477.5,194.1 477.6,190.5 478.1,187.4 478.2,193.6 478.7,193.6 478.8,189.7 480.0,194.0 480.1,189.1 480.3,190.4 480.7,194.1 481.1,194.4 481.7,190.5 482.2,190.2 482.3,195.6 483.0,194.1 483.4,190.4 483.8,194.2 484.2,191.0 484.3,191.6 485.0,194.4 485.2,193.5 485.5,197.6 486.1,193.8 486.4,201.7 486.9,199.6 487.4,204.5 487.5,201.3 488.2,209.4 488.4,209.1 489.0,213.3 489.3,216.6 489.5,208.7 490.0,210.6 490.4,214.9 491.3,209.8 491.4,216.1 491.5,209.9 492.2,212.9 492.5,208.9 493.0,211.9 493.2,208.2 493.7,213.7 494.3,211.3 494.5,207.5 495.1,211.0 495.2,206.4 495.9,205.9 496.2,212.2 496.5,208.8 496.9,204.3 497.3,208.9 497.4,205.6 497.9,207.3 498.1,201.6 499.0,205.3 499.3,208.1 499.8,204.0 500.1,209.5 500.6,204.2 500.7,208.3 501.1,208.0 501.6,202.4 502.3,203.8 502.6,207.9 503.0,207.8 503.2,203.1 503.8,208.5 504.1,204.4 504.5,208.3 504.6,203.6 505.1,203.9 505.5,208.2 506.0,207.7 506.6,203.4 506.9,203.1 507.2,209.1 507.6,202.4 507.9,207.1 508.7,207.4 509.0,202.8 509.3,206.5 509.4,204.6 510.0,206.9 510.3,202.2 510.7,201.3 511.4,206.1 511.5,202.8 511.7,206.2 512.7,208.3 512.9,203.2 513.4,201.7 513.5,205.9 514.0,207.8 514.6,202.0 514.9,201.8 515.2,206.0 515.6,200.7 516.0,204.6 516.3,206.8 517.0,201.7 517.3,200.5 517.7,205.4 517.9,204.3 518.6,200.3 518.7,199.8 519.1,203.9 519.6,198.0 520.2,205.0 520.4,204.8 520.9,199.5 521.3,202.2 521.4,199.5 522.2,199.1 522.4,203.3 522.8,199.7 523.4,203.1 523.6,202.3 523.7,198.1 524.4,201.0 524.5,198.0 525.2,196.6 525.3,201.9 525.9,203.7 526.5,196.2 526.7,198.4 527.2,200.9 527.9,203.2 528.0,197.8 528.4,199.7 529.0,196.7 529.5,194.5 529.7,201.8 530.4,201.3 530.5,198.1 530.7,196.6 531.3,200.7 531.5,195.2 531.9,199.7 532.4,196.5 532.5,200.6 533.1,196.1 533.7,201.2 534.2,199.0 534.3,194.7 535.2,195.0 535.3,200.0 535.7,193.9 536.2,198.2 536.3,196.4 536.5,201.9 537.2,203.0 537.8,195.6 538.2,196.4 538.5,200.1 538.8,195.0 539.4,199.0 539.8,199.5 540.1,193.7 540.4,200.0 540.9,194.3 541.4,196.0 541.7,199.3 542.4,196.7 542.5,199.9 542.7,192.7 543.0,200.2 543.5,200.0 543.6,196.5 544.7,201.4 544.8,195.9 545.1,199.5 545.5,196.8 546.4,196.2 546.5,199.9 546.9,196.2 547.3,200.5 547.9,195.9 548.0,199.7 548.3,197.5 548.9,200.4 549.1,201.6 549.4,197.2 550.2,202.1 550.4,195.5 551.0,198.9 551.2,202.8 551.6,198.8 552.1,204.2 552.4,204.4 552.5,198.7 553.1,202.6 553.3,201.1 554.2,198.4 554.3,203.3 555.1,197.1 555.4,203.8 555.5,198.1 556.1,202.6 556.7,204.9 556.9,200.3 557.3,200.8 557.7,207.5 557.9,200.2 558.6,204.3 559.1,202.0 559.2,204.8 559.6,201.4 560.0,205.1 560.6,200.8 561.0,205.8 561.4,200.9 561.8,204.0 562.0,206.6 562.1,200.6 562.8,205.8 563.3,199.7 563.5,200.5 564.1,205.2 564.3,205.2 564.4,200.3 565.1,205.0 565.2,199.9 566.2,200.5 566.6,204.4 566.9,203.5 567.1,200.6 567.9,199.5 568.2,205.5 568.4,205.4 569.0,200.6 569.1,204.1 569.6,199.6 570.4,199.6 570.5,202.6 571.2,198.4 571.4,203.2 571.5,203.8 572.0,199.6 572.5,203.8 572.9,198.0 573.3,203.8 573.4,200.0 573.9,198.3 574.5,205.0 575.2,202.5 575.3,204.9 576.0,201.4 576.1,205.1 576.5,201.6 576.6,204.0 577.1,205.0 577.4,201.1 578.1,202.7 578.4,204.6 579.0,200.8 579.3,205.3 579.7,202.6 579.9,205.2 580.6,200.9 580.9,205.1 581.3,200.0 581.8,204.4 582.2,201.9 582.6,206.9 583.0,206.9 583.4,201.8 583.6,201.1 583.8,205.3 584.4,202.4 584.5,207.0 585.2,201.4 585.8,205.3 586.1,206.8 586.6,203.5 587.0,203.0 587.3,205.7 587.6,200.2 588.1,207.6 588.5,206.3 588.8,203.9 589.4,205.6 589.5,202.7 590.2,202.7 590.6,205.4 590.9,206.8 591.2,200.9 591.7,201.3 592.1,204.4 592.3,205.1 593.0,199.8 593.4,199.5 593.8,205.1 594.2,204.2 594.3,198.7 594.7,204.7 595.0,200.8 595.9,206.4 596.2,198.3 596.3,202.9 597.0,200.7 597.7,203.0 597.8,198.1 598.0,199.2 598.6,202.8 598.7,198.7 599.2,204.5 599.7,200.6 600.0,204.6 600.4,205.5 600.5,199.1 601.3,200.0 601.7,206.8 601.9,203.1 602.6,202.0 602.9,205.4 603.4,200.9 603.7,207.7 604.1,199.9 604.7,202.1 604.9,204.6 605.2,205.0 605.4,201.0 606.3,201.4 606.6,204.6 607.2,208.8 607.4,201.9 607.8,203.6 608.0,207.5 608.6,206.5 608.7,203.3 609.7,203.2 609.8,207.7 609.9,203.1 610.4,207.4 610.9,205.8 611.2,203.4 611.7,201.7 612.1,206.6 612.5,206.6 612.9,202.4 613.1,208.2 613.7,202.7 614.1,202.2 614.3,207.5 615.0,200.8 615.4,206.1 615.8,202.5 616.2,205.3 616.3,206.3 617.0,203.1 617.2,204.9 617.6,200.6 618.4,206.7 618.6,201.7 618.8,201.4 619.0,208.0 619.6,204.8 619.7,201.4 620.7,206.1 620.8,201.7 621.3,199.7 621.6,204.9 622.1,204.3 622.4,200.5 623.1,205.6 623.2,200.7 623.6,199.9 624.1,204.3 624.6,204.5 624.8,200.3 625.2,204.9 625.4,200.4 625.9,201.1 626.0,204.5 626.9,205.1 627.3,201.3 627.5,202.1 627.6,205.7 628.4,206.3 628.9,199.1 629.3,202.7 629.8,206.2 630.1,207.6 630.4,202.1 630.9,201.4 631.4,206.1 631.9,202.7 632.1,205.1 632.6,202.3 632.9,206.6 633.6,202.9 633.8,206.9 634.4,208.3 634.6,203.4 634.7,210.3 634.9,204.7 635.9,206.2 636.0,209.3 636.5,210.4 636.8,203.4 637.4,209.2 637.8,205.6 638.2,205.2 638.4,209.9 638.8,210.3 639.1,205.6 639.9,206.3 640.0,209.9 640.6,206.6 641.0,211.1 641.5,211.9 641.8,208.0 641.9,210.4 642.4,206.6 643.1,207.3 643.2,211.1 643.6,210.6 644.1,207.5 644.3,213.2 644.6,206.7 645.5,206.5 645.8,211.0 646.2,207.5 646.4,209.0 647.2,207.6 647.3,210.7 647.6,212.5 648.1,207.5 648.3,210.6 648.6,208.1 649.2,210.9 649.5,204.7 650.5,205.8 650.6,209.9 650.7,209.8 650.9,207.2 651.6,206.6 652.1,212.6 652.8,211.7 653.0,209.1 653.4,211.2 653.7,207.8 654.0,209.1 654.1,212.2 655.0,212.3 655.3,207.1 655.5,207.0 655.9,211.3 656.7,207.5 656.9,211.1 657.1,207.6 657.8,212.8 658.2,206.2 658.6,214.0 659.1,211.6 659.2,208.6 659.8,207.3 659.9,211.6 660.6,211.7 660.9,206.9 661.3,210.4 661.4,206.8 662.1,210.9 662.5,206.6 663.2,211.6 663.3,206.9 663.6,207.8 663.8,211.3 664.7,210.0 665.0,206.1 665.5,206.5 665.6,211.6 666.2,211.8 666.4,206.5 666.9,211.0 667.0,206.8 668.0,209.7 668.1,207.2 668.4,205.7 668.9,210.8 669.3,207.8 669.6,210.9 669.9,210.4 670.5,206.8 670.8,206.1 671.3,210.7 671.7,208.1 672.1,210.3 672.6,206.4 672.7,210.2 673.2,209.6 673.4,205.8 674.0,207.0 674.1,209.8 674.8,208.9 675.1,206.1 675.5,212.3 675.6,205.7 676.8,212.1 676.9,207.9 677.5,204.8 677.6,208.8 678.2,209.8 678.3,206.0 679.3,209.2 679.4,206.0 679.9,210.1 680.0,205.0 680.4,204.5 680.7,210.5 681.1,209.2 681.7,204.6 682.3,204.0 682.5,209.6 683.0,210.1 683.1,205.9 683.7,209.0 683.8,206.4 684.3,209.8 684.6,205.3 685.6,203.2 685.7,208.8 686.3,209.8 686.5,206.0 686.8,208.6 687.4,204.5 687.7,204.1 688.1,209.4 688.3,205.5 689.0,208.3 689.1,206.0 689.5,208.9 690.2,203.8 690.3,209.1 690.8,210.1 690.9,206.3 691.5,206.5 692.0,212.5 692.4,204.2 693.0,210.3 693.2,204.8 693.5,210.0 694.3,206.1 694.5,211.4 695.1,204.8 695.3,210.9 695.7,210.7 696.2,206.2 696.6,205.5 697.0,210.5 697.1,211.9 697.5,206.9 698.2,210.9 698.6,206.8 698.7,209.2 699.1,206.0 700.0,204.9 700.1,210.2 700.3,211.2 700.6,206.6 701.1,205.7 701.8,210.5 702.4,206.8 702.5,210.4 702.8,211.1 703.3,206.7 704.1,207.0 704.2,209.7 704.3,210.5 704.9,207.8 705.1,213.8 705.8,207.7 706.2,213.5 706.4,207.9 706.7,210.9 707.0,207.4 707.8,206.0 708.0,211.7 708.6,213.3 709.0,207.1 709.1,213.8 709.5,209.7 710.2,214.2 710.4,210.8 710.7,210.6 711.1,214.8 711.8,210.4 712.0,214.9 712.4,210.3 712.9,214.7 713.5,217.8 713.7,212.7 714.2,216.8 714.6,211.5 714.8,217.3 715.3,212.1 715.7,217.1 715.8,212.1 716.3,213.5 716.9,218.1 717.2,214.1 717.3,219.9 717.9,214.4 718.5,217.8 718.9,213.9 719.4,220.8 719.6,216.4 720.1,220.8 720.3,214.5 721.0,221.0 721.3,212.5 721.5,222.0 721.9,216.4 722.3,220.0 722.8,223.6 723.3,218.5 723.6,217.8 723.9,224.2 724.8,221.5 724.9,217.5 725.1,216.7 725.8,221.0 726.3,223.2 726.5,217.2 726.7,224.4 726.9,219.0 727.6,222.6 727.8,217.6 728.3,221.6 728.5,218.0 729.5,225.0 729.7,219.2 730.5,219.0 730.6,224.6 730.8,221.7 731.3,215.3 731.7,223.8 731.8,217.1 732.3,223.6 732.5,219.8 733.4,224.4 733.5,217.0 733.9,219.3 734.5,223.7 734.7,219.7 735.3,226.0 736.0,222.3 736.2,220.1 736.3,220.8 736.7,224.1 737.4,222.6 737.7,218.4 738.1,219.6 738.6,224.1 739.0,219.6 739.4,225.5 739.9,226.2 740.1,221.0 740.6,225.2 740.9,220.4 741.2,226.0 741.3,220.7 741.9,221.0 742.4,226.6 743.2,228.8 743.4,220.7 743.8,225.3 744.2,220.4 744.5,227.1 744.8,218.8 745.1,220.9 745.2,227.8 746.0,229.5 746.1,220.9 746.7,220.0 747.2,227.3 747.5,222.7 748.0,230.2 748.4,222.7 748.7,229.3 749.2,223.4 749.3,230.8 750.2,228.2 750.5,222.3 750.8,226.0 751.0,228.7 751.7,229.2 751.8,222.3 752.6,229.7 752.9,222.7 753.2,224.1 753.7,228.7 753.9,221.2 754.5,231.2 755.1,228.0 755.3,220.6 755.6,227.0 756.2,219.2 756.4,229.2 756.8,220.6 757.3,219.0 757.4,228.1 758.0,228.0 758.3,222.3 759.0,217.3 759.2,226.0 759.5,221.1 759.6,229.0 760.5,226.6 760.9,221.8 761.2,217.9 761.7,226.5 761.9,228.3 762.6,219.6 763.1,224.5 763.3,219.9 763.5,225.0 764.0,218.2 764.5,221.0 765.0,229.7 765.4,226.0 765.7,219.0 766.3,227.2 766.5,221.1 766.9,221.5 767.1,229.0 767.6,230.5 768.0,221.1 768.3,229.1 768.8,221.9 769.1,229.9 769.3,223.0 770.2,226.3 770.3,221.2 770.7,221.6 771.0,225.8 771.5,221.2 771.6,229.0 772.4,224.2 772.9,226.6 773.1,230.3 773.7,223.4 773.9,228.8 774.1,223.1 774.7,225.7 775.0,231.4 775.5,231.2 776.0,224.4 776.7,224.6 777.0,232.1 777.4,222.6 777.8,228.2 778.2,231.8 778.4,224.1 778.7,224.5 779.1,229.6 779.7,224.4 780.1,229.8 780.3,223.3 780.9,228.7 781.5,229.2 781.6,218.8 781.9,230.4 782.1,223.9 783.2,223.4 783.4,232.3 783.5,229.9 784.0,222.9 784.4,230.2 784.5,219.7 785.1,232.5 785.4,221.1 785.9,229.3 786.3,224.1 787.0,229.4 787.4,225.1 788.1,220.5 788.2,232.5 788.3,223.0 788.6,229.5 789.2,223.5 789.7,231.0 790.0,231.5 790.2,223.8 790.7,230.8 791.3,222.7 792.0,224.6 792.1,234.8 792.8,219.6 793.0,229.7 793.2,230.7 793.7,222.7 793.9,224.3 794.2,230.9 794.7,221.4 794.9,231.5 795.6,230.4 795.9,221.8 796.3,227.9 796.8,222.6 797.3,219.9 797.6,227.7 798.0,230.4 798.6,220.3 798.8,221.3 799.1,229.9 799.9,231.3 800.0,223.9 800.3,231.1 800.5,221.3 801.4,230.7 801.8,223.9 802.4,219.1 802.6,227.9 803.1,228.7 803.3,223.1 803.7,234.3 804.1,222.0 804.6,225.0 804.8,232.8 805.1,233.2 805.4,224.0 806.1,233.9 806.2,219.2 806.7,229.5 807.3,223.4 807.5,232.1 808.0,220.6 808.4,230.7 808.5,221.8 809.6,233.4 809.7,222.9 810.2,229.2 810.4,222.4 810.7,222.3 811.1,233.0 811.5,232.5 812.1,222.9 812.3,219.3 813.0,233.6 813.1,232.5 813.2,221.0 814.5,230.3 814.6,221.8 814.8,227.3 815.0,222.9 815.5,222.6 816.2,234.3 816.3,232.1 816.8,223.7 817.4,232.3 817.5,216.9 817.9,229.2 818.5,222.5 818.8,231.4 819.3,221.1 819.9,220.7 820.1,231.3 820.7,219.0 820.9,231.3 821.2,233.8 821.8,220.0 821.9,219.3 822.0,228.3 823.0,226.1 823.2,217.9 823.7,217.4 823.8,226.9 824.3,229.3 824.7,220.9 825.2,220.7 825.5,228.9 826.1,228.0 826.4,221.5 826.7,222.3 827.4,231.5 827.7,230.3 828.1,220.4 828.4,235.4 828.5,220.1 829.4,230.9 829.6,224.9 830.4,220.6 830.5,232.9 830.8,224.4 831.0,233.6 831.6,233.7 832.2,224.5 832.3,234.8 832.6,224.7 833.3,231.8 833.4,226.2 834.1,222.8 834.6,234.6 835.1,231.8 835.2,229.4 835.7,232.3 835.8,227.8 836.4,229.7 837.0,235.1 837.4,225.5 837.8,231.1 838.0,239.6 838.5,228.4 839.1,224.7 839.2,234.0 839.6,224.1 840.2,236.2 840.4,228.6 841.0,234.5 841.2,234.1 841.6,227.5 842.2,228.6 842.6,236.1 843.1,237.7 843.4,227.7 843.6,232.9 843.9,224.1 844.7,238.0 845.0,225.8 845.5,224.3 845.8,233.9 846.0,230.8 846.5,227.1 846.8,233.5 846.9,228.2 847.8,237.4 848.2,226.8 848.8,227.4 848.9,236.5 849.1,236.9 849.7,226.6 850.3,236.1 850.4,228.1 850.7,234.5 851.4,227.0 851.5,226.8 852.1,234.1 852.8,227.1 852.9,234.4 853.4,236.3 853.7,227.4 853.9,237.2 854.4,229.2 855.0,236.7 855.3,229.4 855.7,230.2 856.0,236.4 856.4,230.2 856.9,240.7 857.1,239.3 857.7,231.5 857.9,228.8 858.0,237.5 859.2,241.0 859.3,232.0 859.8,237.4 860.0,228.8 860.4,238.6 860.7,232.5 861.6,240.9 861.8,234.9 862.0,245.9 862.3,235.0 862.8,235.2 862.9,239.1 863.5,244.4 863.7,236.3 864.6,236.5 864.8,244.0 865.4,235.6 865.6,244.7 866.1,244.3 866.4,239.2 866.7,247.4 866.8,237.0 867.7,234.6 868.0,247.7 868.4,237.2 868.7,251.0 869.7,238.4 869.8,251.9 870.0,237.5 870.4,248.8 870.7,246.1 870.8,239.2 871.5,236.0 872.0,248.3 872.7,240.1 872.8,248.7 873.3,236.5 873.4,249.0 874.2,245.3 874.3,237.5 875.0,240.6 875.4,246.5 875.6,241.8 876.2,248.6 876.8,246.5 877.0,239.6 877.5,238.7 877.6,246.2 877.9,247.6 878.6,239.8 878.8,239.1 879.1,248.7 879.7,240.0 880.1,247.3 880.3,249.1 880.5,241.0 881.1,240.5 881.5,248.8 882.0,242.4 882.2,247.5 882.7,249.9 883.2,243.6 883.7,244.1 884.1,252.8 884.3,256.9 884.4,246.4 885.2,250.6 885.7,240.9 885.9,244.8 886.6,254.1 886.8,243.1 887.0,253.9 887.5,245.0 887.8,253.6 888.7,246.2 888.9,255.6 889.4,245.7 889.8,254.0 890.4,246.0 890.5,254.9 891.1,262.2 891.3,247.4 891.7,245.5 891.8,256.3 892.7,251.1 892.8,258.8 893.4,257.5 893.8,249.6 894.0,258.4 894.1,247.9 895.3,254.6 895.4,261.6 895.9,249.7 896.2,260.4 896.3,250.0 897.0,257.6 897.2,256.7 897.5,252.0 898.5,260.2 898.6,250.6 899.0,249.9 899.3,260.6 899.8,251.9 900.1,256.5 900.4,258.7 900.5,250.8 901.5,258.1 901.7,249.8 902.0,247.6 902.5,262.2 903.0,260.1 903.4,249.1 903.6,254.9 903.9,250.0 904.7,248.2 904.9,259.0 905.3,244.9 905.5,254.9 906.2,245.9 906.3,256.9 906.8,254.4 907.4,247.8 907.8,246.6 908.1,255.0 908.3,261.3 908.9,246.7 909.2,259.7 909.5,249.0 909.9,252.9 910.3,246.5 910.7,249.8 910.9,257.8 911.8,245.0 912.2,257.5 912.7,247.0 912.8,256.0 913.1,248.5 913.3,258.2 913.9,257.0 914.6,249.7 914.7,257.8 915.1,251.4 915.8,251.3 916.2,260.7 916.6,251.0 916.8,258.3 917.5,258.5 917.8,248.7 917.9,250.3 918.4,260.0 918.9,260.2 919.3,250.2 919.5,252.9 919.7,258.5 920.3,262.1 920.9,253.8 921.2,252.0 921.8,260.4 921.9,252.0 922.1,264.6 923.2,252.5 923.3,262.0 923.8,253.4 924.1,266.8 924.8,255.9 925.0,263.7 925.1,266.7 925.7,257.1 926.3,253.5 926.4,262.2 926.7,254.6 927.0,263.1 927.5,262.2 927.9,254.7 928.4,260.2 929.0,251.3 929.3,255.3 929.5,263.0 930.1,262.0 930.6,252.8 930.8,251.1 931.1,263.9 931.8,260.9 932.2,251.7 932.8,257.1 933.0,259.5 933.5,261.0 933.8,249.8 933.9,261.3 934.3,249.2 935.2,262.3 935.4,249.5 935.6,252.5 935.9,263.4 936.4,253.0 936.7,262.1 937.1,252.2 937.6,262.6 938.3,254.3 938.5,262.2 939.2,264.8 939.3,253.4 939.9,255.6 940.2,264.9 940.3,254.4 940.6,264.8 941.3,264.2 941.7,256.0 942.4,261.6 942.6,256.4 942.9,258.2 943.4,265.3 943.6,256.5 944.2,262.0 944.3,264.7 944.4,258.4 945.4,258.8 945.5,266.7 946.0,257.3 946.2,270.5 947.3,267.5 947.4,261.8 947.5,265.8 947.7,257.5 948.4,267.4 948.7,260.6 949.5,259.0 949.7,265.7 950.4,260.8 950.5,268.0 951.1,262.2 951.3,273.4 951.9,262.3 952.1,271.1 952.3,261.1 952.6,268.8 953.5,270.6 953.8,261.5 954.0,263.6 954.2,270.1 955.1,264.9 955.4,272.6 955.7,261.2 956.2,273.8 956.8,274.5 956.9,261.9 957.1,265.3 957.7,272.3 958.2,263.6 958.5,274.7 958.9,264.8 959.0,271.9 959.5,265.0 960.0,272.2 960.3,267.2 960.9,273.9 961.7,263.0 961.8,279.0 961.9,269.0 962.3,275.3 962.9,263.7 963.2,275.0 963.7,275.3 964.0,269.2 964.4,276.6 964.9,264.2 965.6,275.0 965.8,263.0 966.0,277.9 966.3,266.9 967.0,271.4 967.4,279.3 967.8,264.8 968.1,275.1 968.5,268.6 968.8,275.9 969.2,275.2 969.7,271.3 970.1,273.0 970.6,281.8 970.7,276.8 971.0,270.5 971.5,269.3 971.7,277.5 972.7,270.9 972.8,278.7 973.1,278.4 973.5,269.6 974.0,272.7 974.4,279.8 974.7,270.5 975.2,282.5 975.7,281.7 975.9,269.3 976.4,272.3 977.0,283.0 977.5,271.9 977.7,278.3 977.9,269.3 978.3,280.7 979.0,271.6 979.4,278.7 980.0,280.7 980.2,268.7 980.3,276.1 980.4,282.8 981.1,272.7 981.5,280.3 982.4,272.8 982.5,279.7 982.7,271.1 982.9,283.3 983.8,280.6 984.1,271.5 984.7,282.5 984.8,273.6 985.1,274.2 985.4,282.7 986.2,279.9 986.4,272.0 987.0,281.7 987.1,271.7 987.6,280.9 987.9,272.9 988.5,269.0 988.9,279.5 989.2,278.3 989.4,269.6 989.9,269.6 990.3,282.6 990.7,277.6 991.4,267.6 991.6,268.0 991.9,274.2 992.5,275.9 992.7,267.5 993.6,265.8 993.7,274.5 994.1,267.3 994.5,275.0 994.9,272.7 995.2,265.9 995.5,275.1 996.2,267.5 996.3,272.2 996.4,263.7 997.2,272.4 997.8,264.9 998.1,274.3 998.5,269.3 998.9,274.3 999.3,267.3 999.7,265.5 999.8,274.8 1000.3,267.4 1001.0,277.3 1001.2,277.0 1001.3,266.0 1002.0,276.5 1002.3,267.5 1002.7,265.8 1003.3,280.0 1003.9,270.0 1004.0,280.4 1004.6,279.3 1004.7,269.7 1005.1,279.3 1005.2,270.9 1006.1,283.2 1006.4,269.3 1006.8,271.0 1007.2,285.2 1007.9,273.6 1008.0,280.0 1008.4,283.9 1009.0,269.6 1009.5,283.9 1009.6,275.7 1010.1,269.3 1010.3,284.9 1010.9,274.7 1011.1,284.8 1011.8,279.3 1012.0,285.2 1012.3,276.9 1013.0,283.9 1013.2,274.5 1013.8,285.2 1014.3,274.2 1014.6,286.1 1015.3,285.2 1015.4,273.4 1015.6,283.5 1015.9,276.1 1016.3,273.1 1017.0,287.1 1017.3,274.8 1017.8,281.4 1018.5,268.3 1018.6,279.8 1018.8,273.2 1019.0,287.5 1019.5,274.9 1019.9,283.9 1020.6,281.9 1021.0,276.7 1021.1,275.7 1021.7,282.1 1022.4,274.5 1022.6,281.7 1023.0,277.5 1023.1,287.7 1023.8,289.8 1023.9,272.7 1024.6,276.2 1024.7,285.9 1025.5,281.1 1025.7,288.2 1026.1,283.3 1026.2,292.9 1026.8,285.5 1027.1,291.7 1028.1,284.8 1028.2,290.6 1028.7,283.1 1028.9,294.6 1029.2,296.4 1029.8,286.3 1030.1,297.3 1030.2,284.4 1030.8,301.3 1031.2,286.5 1031.5,297.7 1031.6,284.0 1032.8,298.7 1033.0,289.2 1033.2,291.8 1033.6,304.1 1033.9,293.4 1034.3,302.3 1035.0,297.8 1035.4,302.9 1035.5,309.1 1036.1,295.1 1036.6,295.6 1036.9,307.7 1037.3,292.4 1037.6,303.0 1037.9,304.7 1038.3,297.1 1038.8,295.4 1039.0,306.1 1039.7,306.1 1039.9,298.3 1040.5,305.5 1040.8,296.7 1041.3,292.4 1041.4,308.5 1042.4,304.7 1042.6,292.4 1042.8,306.5 1043.1,293.0 1043.5,303.6 1044.2,293.5 1044.4,292.2 1044.6,302.5 1045.2,298.7 1045.4,288.6 1046.2,287.5 1046.3,296.9 1046.8,297.1 1047.1,286.4 1047.9,293.4 1048.1,285.8 1048.7,292.5 1049.0,285.9 1049.1,284.0 1049.3,291.0 1050.1,289.4 1050.6,284.0 1050.8,293.6 1051.0,280.9 1051.6,281.3 1051.8,297.7 1052.3,292.3 1052.8,283.7 1053.1,281.4 1053.7,292.9 1054.1,292.8 1054.2,285.4 1054.9,292.4 1055.4,282.8 1055.6,294.5 1055.8,284.2 1056.3,282.7 1056.6,293.3 1057.2,279.8 1057.7,296.9 1058.1,294.5 1058.4,285.5 1059.1,286.9 1059.3,294.3 1059.5,285.5 1060.1,293.6 1060.3,285.3 1060.6,295.6 1061.4,288.9 1061.6,293.7 1062.1,283.1 1062.6,295.1 1063.2,297.8 1063.4,287.4 1063.9,286.7 1064.0,296.4 1064.4,293.1 1064.5,285.1 1065.4,288.7 1065.8,298.1 1066.0,299.1 1066.4,289.7 1067.0,300.6 1067.2,291.1 1067.8,290.8 1068.2,303.6 1068.3,287.3 1068.8,296.6 1069.2,303.4 1069.7,287.7 1070.1,301.4 1070.6,291.9 1070.7,294.5 1070.9,299.9 1071.6,301.5 1071.8,291.1 1072.8,301.2 1072.9,292.1 1073.5,305.0 1073.6,294.7 1074.2,296.5 1074.3,303.0 1075.2,296.5 1075.3,304.2 1076.1,296.7 1076.2,309.0 1076.6,308.4 1076.9,298.6 1077.7,305.2 1077.8,299.4 1077.9,297.8 1078.3,307.8 1078.7,301.4 1079.2,310.9 1079.6,300.4 1080.1,313.7 1080.9,310.8 1081.0,302.5 1081.4,311.4 1081.5,301.7 1082.0,297.7 1082.6,308.9 1082.7,304.2 1083.0,310.0 1083.8,309.3 1084.0,296.3 1084.4,310.9 1085.0,301.1 1085.2,310.4 1085.4,306.7 1086.1,303.2 1086.4,311.9 1086.8,299.5 1087.4,316.3 1088.1,308.2 1088.2,298.4 1088.4,315.0 1088.7,305.0 1089.3,309.0 1089.8,303.1 1090.2,303.0 1090.4,311.1 1090.7,302.5 1091.1,308.6 1091.9,306.8 1092.2,317.2 1092.5,301.6 1092.8,318.8 1093.1,303.2 1093.6,308.3 1094.3,311.4 1094.4,300.3 1094.7,314.0 1094.9,304.2 1095.6,316.3 1095.7,304.8 1096.6,312.8 1097.0,305.8 1097.3,316.6 1097.4,305.5 1098.3,307.7 1098.5,310.9 1098.9,320.7 1099.4,309.1 1099.5,314.3 1099.7,306.3 1100.4,311.1 1100.9,324.2 1101.1,309.9 1101.7,323.8 1102.2,321.2 1102.4,311.7 1103.1,322.9 1103.3,314.1 1103.9,314.3 1104.1,324.9 1104.4,314.8 1104.9,326.4 1105.2,315.5 1105.8,326.7 1106.1,313.8 1106.6,329.9 1106.8,325.5 1107.2,318.9 1107.6,328.7 1108.1,321.9 1108.5,333.2 1109.0,320.0 1109.1,329.8 1109.2,324.5 1110.0,326.6 1110.5,335.2 1110.9,327.5 1111.4,338.7 1111.7,335.8 1112.2,323.5 1112.3,329.1 1113.0,336.4 1113.5,346.1 1113.6,330.7 1113.9,330.4 1114.2,343.7 1114.7,335.9 1114.8,341.3 1115.7,346.1 1116.2,336.5 1116.7,335.4 1116.8,347.8 1117.1,339.8 1117.5,351.1 1118.2,349.4 1118.6,342.6 1119.1,337.2 1119.2,350.2 1119.7,350.3 1120.2,342.8 1120.6,341.2 1121.0,355.3 1121.2,348.2 1121.7,354.3 1122.3,347.8 1122.6,361.6 1123.0,349.0 1123.2,357.3 1123.5,349.6 1124.0,362.1 1124.3,351.8 1124.9,362.2 1125.1,346.8 1125.6,358.5 1126.4,360.5 1126.6,351.6 1126.7,354.3 1127.1,361.7 1127.8,353.4 1128.0,359.7 1128.5,358.0 1128.9,348.0 1129.1,359.7 1129.4,345.8 1130.3,362.5 1130.6,346.4 1130.9,355.9 1131.1,344.3 1131.5,346.3 1131.6,357.0 1132.3,345.8 1132.4,355.5 1133.1,359.1 1133.8,345.4 1134.3,356.6 1134.5,342.6 1135.3,351.6 1135.4,335.1 1135.9,355.1 1136.0,342.9 1136.6,345.7 1136.7,358.8 1137.5,361.7 1137.7,350.8 1137.9,357.9 1138.3,346.9 1138.8,351.2 1139.2,360.3 1139.8,351.3 1140.0,361.8 1140.5,357.4 1141.0,349.3 1141.1,361.8 1141.2,346.4 1141.9,351.6 1142.3,360.0 1143.0,353.9 1143.3,368.1 1144.0,353.1 1144.2,368.4 1144.4,355.5 1144.5,369.1 1145.1,356.0 1145.2,368.9 1145.9,356.5 1146.4,375.2 1146.8,359.7 1146.9,372.3 1147.5,363.9 1147.7,377.1 1148.8,365.9 1149.0,377.0 1149.2,375.8 1149.6,362.3 1150.3,364.6 1150.5,378.8 1150.7,366.0 1150.9,376.1 1151.8,361.2 1152.2,378.2 1152.6,380.3 1152.7,368.6 1153.2,385.0 1153.3,369.8 1153.9,368.7 1154.3,386.7 1154.7,382.4 1155.4,369.7 1155.6,368.4 1156.2,380.2 1156.3,378.2 1157.0,367.1 1157.4,364.0 1157.6,377.1 1158.1,379.0 1158.5,363.2 1158.7,361.6 1159.0,369.7 1159.5,370.3 1160.1,358.9 1160.3,373.7 1160.5,356.2 1161.2,358.2 1161.4,370.5 1162.0,366.1 1162.2,371.1 1162.8,365.7 1163.4,377.0 1163.6,362.9 1164.2,374.5 1164.3,377.8 1165.0,368.7 1165.3,368.4 1165.5,377.9 1166.0,371.9 1166.4,388.5 1167.0,378.3 1167.1,394.2 1167.7,382.3 1168.0,401.6 1168.3,405.4 1168.8,391.1 1169.2,403.5 1169.4,389.7 1170.0,414.3 1170.4,394.6 1170.9,419.5 1171.0,399.4 1172.0,414.1 1172.2,391.3 1172.3,388.4 1172.8,431.2 1173.1,394.7 1173.5,421.3 1174.0,399.6 1174.3,427.3 1174.7,398.7 1175.0,439.1 1175.8,394.5 1176.2,428.3 1176.6,419.3 1176.9,386.2 1177.4,394.5 1177.7,431.9 1177.9,394.9 1178.0,425.2 1179.0,433.4 1179.1,397.8 1179.7,393.1 1179.8,422.0 1180.4,397.9 1181.0,447.9 1181.1,395.4 1181.6,415.4 1182.0,421.1 1182.1,390.2 1183.1,392.6 1183.2,432.0 1183.5,419.0 1183.9,395.2 1184.5,437.0 1185.0,407.2 1185.4,425.5 1185.6,394.8 1186.1,403.6 1186.6,441.1 1187.1,398.8 1187.2,431.2 1187.5,399.1 1188.1,436.4 1188.4,394.9 1188.9,422.8 1189.1,424.6 1189.7,395.9 1189.9,413.1 1190.4,400.4 1190.9,423.6 1191.3,400.8 1191.7,429.3 1192.1,397.3 1192.3,396.3 1192.8,427.2 1193.1,399.7 1193.7,431.6 1193.9,436.4 1194.2,401.7 1194.7,382.8 1194.9,435.8 1195.8,422.6 1195.9,405.0 1196.4,402.7 1196.8,437.6 1197.3,402.9 1197.4,433.9 1198.2,388.0 1198.4,412.6 1198.9,397.6 1199.4,429.3 1199.6,396.0 1199.7,428.0 1200.4,418.4 1200.7,393.5 1201.2,429.7 1201.3,406.8 1202.0,403.0 1202.5,434.0 1202.9,392.7 1203.4,423.6 1203.5,435.9 1203.9,390.0 1204.3,408.8 1204.4,428.2 1205.1,399.1 1205.6,415.3 1205.9,386.8 1206.3,425.2 1206.8,424.2 1207.4,401.2 1207.7,406.0 1207.9,428.4 1208.5,409.2 1208.8,420.0 1209.3,419.3 1209.8,397.5 1210.4,391.9 1210.5,436.8 1210.9,427.2 1211.0,405.3 1211.7,429.5 1212.0,403.0 1212.6,399.1 1213.0,437.0 1213.4,425.0 1213.8,404.0 1213.9,400.9 1214.4,430.0 1214.8,433.3 1215.0,401.1 1215.6,452.2 1216.0,400.0 1216.4,387.1 1216.5,436.7 1217.1,443.2 1217.3,409.8 1218.0,435.6 1218.2,409.0 1219.0,407.4 1219.1,447.0 1219.5,447.3 1220.2,406.7 1220.6,422.8 1221.0,447.7 1221.2,422.3 1221.7,472.3 1221.9,464.3 1222.4,419.5 1222.9,420.6 1223.4,438.2 1223.6,420.7 1224.1,442.1 1224.6,422.0 1224.9,444.9 1225.3,417.4 1225.5,465.2 1226.2,425.7 1226.6,469.6 1226.7,524.1 1227.2,419.2 1227.8,428.9 1228.0,522.0 1228.6,520.3 1228.7,402.8 1229.3,435.8 1229.6,525.4 1230.1,506.3 1230.2,416.2 1230.8,442.1 1231.2,491.1 1231.7,436.3 1232.1,550.6 1232.3,499.1 1232.4,440.2 1233.1,526.5 1233.5,428.8 1234.4,518.8 1234.6,455.9 1235.0,444.4 1235.3,497.3 1235.8,444.1 1236.0,509.4 1236.6,425.7 1236.9,497.5 1237.1,492.4 1237.8,435.6 1238.4,409.9 1238.5,492.9 1238.8,465.6 1239.4,450.3 1239.9,431.5 1240.1,479.2 1240.8,463.7 1240.9,415.1 1241.5,442.7 1241.7,467.1 1242.4,457.6 1242.6,425.0 1242.7,430.7 1243.1,455.1 1243.7,460.5 1243.9,432.2 1244.7,422.1 1245.0,454.1 1245.3,449.5 1245.4,437.6 1246.3,417.2 1246.4,450.4 1247.0,429.6 1247.4,448.4 1247.5,455.0 1248.0,417.8 1248.3,416.0 1248.8,448.9 1249.2,467.3 1249.7,423.5 1250.0,452.5 1250.4,428.1 1251.0,446.4 1251.2,417.3 1251.6,455.3 1252.0,420.5 1252.6,465.2 1253.0,417.0 1253.7,428.7 1253.8,445.2 1253.9,446.1 1254.0,421.8 1255.0,418.1 1255.2,439.3 1256.1,458.4 1256.2,417.2 1256.5,455.4 1256.9,416.4 1257.2,419.6 1257.6,454.0 1258.3,414.8 1258.6,468.0 1258.8,410.5 1258.9,457.5 1259.9,444.2 1260.0,416.9 1260.5,418.9 1261.0,452.4 1261.2,430.7 1261.8,458.4 1262.1,430.9 1262.6,461.7 1262.9,411.8 1263.4,492.0 1263.8,512.5 1264.1,447.7 1264.4,496.4 1265.0,435.2 1265.2,502.2 1265.5,442.8 1265.9,463.2 1266.4,537.0 1266.9,560.3 1267.4,482.2 1267.6,477.9 1268.2,523.8 1268.6,563.3 1269.0,484.3 1269.4,555.1 1269.6,469.8 1270.0,495.2 1270.5,544.5 1271.0,482.9 1271.1,614.0 1271.7,523.6 1272.2,579.4 1272.4,524.2 1272.8,592.7 1273.2,567.5 1273.8,497.2 1273.9,541.5 1274.1,472.0 1275.1,563.3 1275.2,484.7 1275.7,492.7 1275.9,531.9 1276.4,500.8 1276.8,572.5 1277.2,565.1 1277.4,469.1 1278.3,543.3 1278.6,480.0 1278.8,503.4 1279.3,551.4 1279.8,488.9 1280.2,539.7 1280.4,562.2 1280.9,468.3 1281.2,542.6 1281.8,493.7 1282.4,570.9 1282.6,471.4 1282.8,472.9 1283.4,545.6 1284.0,485.5 1284.2,511.2 1284.6,518.6 1284.9,488.6 1285.1,510.5 1285.8,478.2 1285.9,509.1 1286.5,482.5 1286.8,470.1 1287.4,517.6 1287.9,525.4 1288.1,474.1 1288.3,484.3 1288.5,528.3 1289.5,532.3 1289.6,485.3 1290.2,479.5 1290.5,534.2 1290.8,467.8 1291.0,539.0 1291.9,505.9 1292.1,564.5 1292.3,527.0 1293.0,508.1 1293.1,480.6 1293.6,543.9 1294.0,494.7 1294.6,575.7 1294.7,562.5 1295.1,513.2 1295.8,546.9 1296.0,486.6 1296.6,556.7 1297.0,486.2 1297.1,461.0 1297.6,574.1 1297.9,566.1 1298.1,503.4 1298.8,486.5 1298.9,553.8 1299.6,608.0 1299.7,492.8 1300.3,598.2 1300.4,509.2 1301.5,518.5 1301.7,618.9 1302.2,605.3 1302.4,510.4 1302.7,502.6 1303.3,613.6 1304.1,594.4 1304.2,490.1 1304.5,521.0 1304.6,577.1 1305.2,745.6 1305.3,523.6 1306.5,528.9 1306.6,619.9 1306.7,599.6 1306.8,506.4 1307.5,603.4 1307.6,525.5 1308.4,503.0 1308.6,626.9 1309.1,589.3 1309.2,501.6 1310.0,591.7 1310.4,524.8 1310.9,511.1 1311.4,564.1 1311.9,560.8 1312.2,491.7 1312.6,481.4 1313.0,553.9 1313.2,482.7 1313.3,586.9 1314.2,592.1 1314.6,520.3 1315.1,511.3 1315.3,565.5 1315.5,499.1 1316.1,594.5 1316.3,503.2 1316.7,581.7 1317.2,571.8 1317.3,502.1 1317.9,579.8 1318.4,540.2 1318.8,523.9 1319.4,591.6 1319.6,519.7 1320.1,596.1 1320.3,595.6 1320.9,504.4 1321.2,613.9 1321.3,512.8 1322.0,531.8 1322.2,622.6 1323.0,591.2 1323.3,492.0 1323.7,516.9 1323.9,628.1 1324.5,509.7 1324.6,623.3 1325.6,520.2 1325.7,589.8 1326.1,548.0 1326.5,612.0 1326.8,626.9 1326.9,515.2 1327.8,616.3 1328.0,524.4 1328.7,650.6 1329.0,509.2 1329.6,508.8 1329.7,576.7 1329.9,536.3 1330.1,613.9 1330.7,637.8 1331.4,537.9 1331.7,544.8 1332.0,718.8 1332.3,497.0 1332.9,588.2 1333.1,607.4 1333.5,511.6 1334.0,592.3 1334.1,510.7 1335.1,516.7 1335.4,594.0 1336.1,608.4 1336.2,498.8 1336.4,505.8 1336.6,607.4 1337.1,497.6 1337.3,599.4 1338.2,524.1 1338.5,608.5 1338.9,581.4 1339.2,521.0 1339.6,571.9 1340.0,521.2 1340.3,594.4 1340.5,519.3 1341.4,526.2 1341.7,640.4 1342.1,518.3 1342.6,567.6 1343.0,507.9 1343.2,593.7 1343.7,570.2 1344.1,514.5 1344.5,520.5 1344.6,598.6 1345.6,513.8 1345.8,579.9 1346.2,633.9 1346.6,546.4 1346.7,620.0 1347.1,531.4 1347.9,514.8 1348.0,597.6 1348.3,575.9 1348.5,535.3 1349.4,515.4 1349.7,585.8 1350.0,476.4 1350.2,607.3 1351.1,510.4 1351.4,698.9 1352.1,536.5 1352.2,596.3 1352.5,499.4 1352.7,595.9 1353.4,651.5 1353.5,510.1 1354.5,519.7 1354.6,589.5 1354.8,594.4 1355.1,519.4 1355.7,490.1 1356.2,638.6 1356.7,510.2 1356.8,597.0 1357.5,583.9 1357.8,536.2 1358.1,482.1 1358.4,576.9 1358.7,507.8 1359.1,582.4 1359.5,576.5 1359.7,496.4 1360.3,561.9 1361.0,507.7 1361.2,618.5 1361.4,519.2 1362.1,500.9 1362.2,567.8 1362.7,567.4 1363.4,483.3 1363.5,564.1 1364.0,513.1 1364.4,480.9 1364.9,595.4 1365.5,484.3 1365.8,576.2 1366.2,587.2 1366.5,498.5 1367.0,487.4 1367.2,566.6 1367.6,548.9 1367.9,508.3 1368.5,493.1 1369.0,559.9 1369.6,631.7 1369.8,496.1 1370.1,602.7 1370.3,487.5 1370.8,511.5 1371.3,597.6 1371.7,490.5 1372.0,580.1 1372.9,568.7 1373.0,493.3 1373.4,498.4 1373.8,578.8 1374.2,515.3 1374.6,577.2 1375.2,551.1 1375.3,488.9 1375.9,504.7 1376.2,580.9 1376.4,510.8 1376.9,562.1 1377.6,580.7 1377.8,492.6 1378.1,502.3 1378.6,553.9 1378.9,500.9 1379.4,561.9 1380.1,594.0 1380.2,519.2 1380.3,581.4 1380.9,506.5 1381.2,515.2 1381.6,595.6 1382.4,553.7 1382.5,493.3 1383.1,602.4 1383.3,498.4 1384.0,595.6 1384.1,495.3 1384.3,593.3 1384.7,513.0 1385.1,574.3 1385.3,522.0 1386.0,604.4 1386.2,507.8 1386.7,521.9 1387.4,579.2 1387.7,501.0 1387.9,596.2 1388.3,572.1 1389.0,531.0 1389.1,578.2 1389.6,535.5 1390.1,509.2 1390.2,601.4 1390.8,529.6 1391.1,608.6 1391.5,541.0 1391.6,602.9 1392.3,614.2 1392.5,529.5 1393.5,534.1 1393.8,628.6 1394.0,528.3 1394.3,606.5 1394.8,590.2 1395.3,534.4 1395.5,526.8 1395.8,620.0 1396.4,538.9 1396.7,666.9 1397.1,591.5 1397.2,522.8 1398.0,668.5 1398.2,526.5 1399.1,648.0 1399.3,508.8 1399.7,756.4 1400.2,483.8 1400.4,759.3 1400.9,493.9 1401.1,528.3 1401.2,622.3 1401.9,626.8 1402.6,540.6 1403.0,526.0 1403.4,649.1 1403.7,549.6 1403.9,631.3 1404.5,525.2 1404.9,634.6 1405.5,623.5 1405.8,499.8 1406.0,627.7 1406.3,519.9 1407.1,590.7 1407.4,533.9 1407.6,633.1 1408.0,581.4 1408.6,668.5 1408.9,557.8 1409.1,616.8 1409.2,537.9 1410.4,616.3 1410.5,535.8 1410.8,555.4 1411.0,685.5 1411.8,613.5 1412.1,546.8 1412.3,558.8 1412.5,677.6 1413.1,634.4 1413.3,530.2 1414.1,630.2 1414.4,535.3 1414.7,528.7 1415.3,616.1 1415.6,627.7 1415.9,585.7 1416.4,655.6 1416.6,535.6 1417.4,521.0 1417.6,709.0 1418.3,528.0 1418.5,600.6 1418.8,529.7 1419.1,699.0 1419.7,702.8 1419.9,547.1 1420.4,660.9 1420.9,563.6 1421.4,545.9 1421.8,682.1 1421.9,647.5 1422.0,535.2 1423.0,555.0 1423.4,694.6 1423.6,659.0 1424.0,585.8 1424.7,567.7 1424.8,649.8 1425.4,731.5 1425.7,568.6 1426.1,694.8 1426.3,591.4 1426.9,541.4 1427.2,631.4 1427.6,674.5 1427.8,554.5 1428.8,649.2 1428.9,557.8 1429.7,572.7 1429.8,625.7 1430.3,682.6 1430.6,574.3 1430.9,657.6 1431.1,560.3 1431.7,584.8 1432.0,647.5 1432.6,557.6 1432.7,669.1 1433.2,591.7 1433.5,670.9 1434.2,794.7 1434.3,571.5 1434.9,599.8 1435.4,809.0 1435.8,538.1 1436.0,659.4 1436.5,687.9 1436.7,569.2 1437.5,578.0 1437.6,706.2 1438.0,581.7 1438.3,686.5 1438.7,645.8 1439.3,540.6 1439.8,641.0 1440.1,556.7 1440.5,576.1 1440.7,662.3 1441.1,655.6 1441.8,565.4 1442.1,568.8 1442.6,659.3 1443.0,554.0 1443.4,661.8 1443.6,688.8 1443.7,559.4 1444.5,654.8 1444.9,593.0 1445.5,566.6 1445.8,633.0 1446.0,560.1 1446.1,652.6 1446.9,659.1 1447.0,554.3 1447.5,592.8 1447.9,656.5 1448.6,566.1 1448.9,643.5 1449.2,651.8 1449.5,564.5 1450.1,550.0 1450.5,669.7 1450.8,567.1 1451.3,750.9 1451.6,566.3 1451.9,678.4 1452.5,579.1 1453.0,699.2 1453.4,707.9 1453.6,558.2 1453.9,638.9 1454.6,568.5 1455.0,565.8 1455.2,651.1 1455.9,688.8 1456.0,567.4 1456.3,655.6 1456.4,589.4 1457.2,689.1 1457.8,605.2 1457.9,569.4 1458.2,691.8 1459.0,690.2 1459.3,631.6 1459.8,591.9 1460.0,717.4 1460.5,705.0 1461.0,618.3 1461.3,547.8 1461.4,686.0 1462.5,588.3 1462.6,714.5 1462.8,802.3 1463.3,583.6 1464.0,558.9 1464.1,683.2 1464.6,546.2 1464.7,826.6 1465.2,558.8 1465.6,826.6 1466.0,577.0 1466.3,753.0 1467.2,583.7 1467.4,691.0 1467.7,572.1 1468.0,702.1 1468.3,553.4 1468.6,701.6 1469.2,644.6 1469.8,573.6 1469.9,660.0 1470.3,563.8 1471.0,568.7 1471.1,654.9 1471.7,687.0 1472.1,532.2 1472.5,595.3 1472.8,695.9 1473.3,686.6 1473.8,594.6 1474.0,598.1 1474.4,639.3 1474.9,589.5 1475.0,662.9 1475.8,613.1 1476.0,722.5 1476.7,695.8 1476.9,605.2 1477.2,668.7 1477.3,558.2 1478.1,585.5 1478.2,685.9 1479.0,556.0 1479.4,688.7 1479.7,684.4 1480.2,576.6 1480.3,577.1 1480.9,709.9 1481.3,572.3 1481.5,765.8 1482.2,720.4 1482.6,541.9 1482.9,575.5 1483.4,713.1 1483.5,718.9 1484.0,552.1 1484.4,561.1 1484.6,738.9 1485.4,599.9 1485.5,766.0 1486.0,564.7 1486.2,664.2 1486.8,584.2 1487.2,717.7 1487.7,582.8 1488.0,736.5 1488.5,522.1 1488.8,722.3 1489.5,746.3 1489.7,558.8 1490.5,551.0 1490.6,749.0 1491.2,583.0 1491.3,684.2 1491.7,767.7 1491.9,549.7 1492.3,557.2 1492.4,699.4 1493.3,674.4 1493.7,570.0 1494.3,581.7 1494.6,734.7 1494.8,575.9 1495.3,750.2 1495.6,594.8 1495.9,692.4 1496.3,572.2 1496.4,728.6 1497.2,789.4 1497.5,585.4 1498.2,544.4 1498.6,771.6 1499.0,558.1 1499.4,733.3 1499.7,707.2 1500.1,601.8 1500.5,693.3 1500.7,553.6 1501.1,551.4 1501.6,728.9 1502.2,545.7 1502.3,768.5 1502.9,896.8 1503.4,589.0 1503.9,758.2 1504.2,523.1 1504.3,559.8 1504.8,775.5 1505.4,800.0 1505.7,619.7 1506.1,675.8 1506.6,610.5 1506.9,801.4 1507.0,559.0 1507.5,600.6 1508.0,743.9 1508.3,548.3 1508.5,636.7 1509.1,560.3 1509.4,827.4 1510.1,704.5 1510.4,541.0 1510.9,566.4 1511.3,722.5 1511.9,613.3 1512.1,735.4 1512.3,699.7 1512.7,568.3 1513.2,672.9 1513.5,587.2 1514.0,553.0 1514.5,684.8 1514.8,678.0 1515.3,590.8 1515.5,721.2 1516.2,556.1 1516.3,760.1 1516.8,579.1 1517.2,673.3 1517.3,548.0 1517.9,576.1 1518.1,693.9 1519.0,592.9 1519.3,676.0 1519.7,675.2 1520.0,565.2 1520.6,558.3 1520.9,821.4 1521.4,558.0 1521.8,685.2 1522.3,550.3 1522.6,809.6 1523.0,569.0 1523.1,675.9 1523.7,692.0 1524.0,600.5 1524.5,615.0 1524.8,927.6 1525.3,663.6 1525.5,542.2 1526.2,701.2 1526.3,621.4 1526.7,563.6 1527.3,783.8 1527.6,597.1 1528.1,776.5 1528.6,770.8 1528.9,595.9 1529.7,720.6 1529.8,615.6 1530.1,749.0 1530.5,575.7 1531.0,616.5 1531.2,681.5 1531.6,567.9 1531.7,684.2 1532.7,574.1 1533.0,709.5 1533.1,577.0 1533.7,664.8 1534.4,596.3 1534.6,740.1 1534.7,578.8 1534.8,668.0 1535.5,694.3 1535.7,622.2 1536.4,632.9 1536.8,721.3 1537.7,766.5 1537.8,596.9 1538.2,696.0 1538.4,603.1 1538.7,694.7 1539.0,599.2 1539.7,612.1 1539.9,691.3 1540.4,713.7 1540.6,583.7 1541.3,571.8 1541.7,666.0 1542.0,587.6 1542.1,693.5 1542.9,607.9 1543.4,731.6 1543.6,595.6 1544.1,724.6 1544.8,571.4 1545.0,686.2 1545.2,714.9 1545.6,567.7 1546.5,586.4 1546.6,694.0 1546.7,699.0 1546.8,569.5 1547.6,723.7 1547.8,558.5 1548.5,692.6 1549.0,586.7 1549.2,592.6 1549.6,676.7 1550.0,579.7 1550.4,685.3 1550.9,763.5 1551.2,624.1 1551.7,685.3 1551.9,577.9 1552.3,734.2 1552.5,606.7 1553.2,738.8 1553.8,592.6 1553.9,619.8 1554.1,725.0 1554.7,566.5 1554.8,822.8 1556.0,740.8 1556.2,616.5 1556.3,569.5 1556.8,738.2 1557.5,597.9 1557.8,733.3 1558.4,613.0 1558.6,738.4 1558.8,700.3 1559.0,606.3 1559.7,689.1 1559.9,567.0 1560.8,751.0 1561.0,597.2 1561.1,690.1 1561.4,577.7 1561.9,705.9 1562.3,631.7 1562.9,740.3 1563.3,600.4 1563.5,576.8 1564.1,698.4 1564.3,831.0 1564.5,563.8 1565.1,766.4 1565.3,591.0 1566.0,654.9 1566.6,604.5 1567.1,590.6 1567.4,778.1 1567.5,690.3 1568.0,570.2 1568.4,588.4 1568.8,707.6 1569.2,592.1 1569.7,711.3 1570.3,599.2 1570.5,678.3 1570.7,585.6 1571.4,673.8 1571.7,573.5 1572.0,701.3 1572.8,560.8 1572.9,769.3 1573.7,696.3 1573.8,578.8 1574.2,723.5 1574.6,567.5 1574.9,682.3 1575.2,608.0 1575.7,613.6 1576.0,734.4 1576.8,714.8 1577.0,599.1 1577.5,669.5 1577.7,576.4 1578.3,567.9 1578.5,687.7 1578.8,616.1 1578.9,691.4 1579.8,733.6 1580.2,617.6 1580.3,608.3 1581.0,734.6 1581.2,736.1 1581.5,541.9 1582.4,607.0 1582.6,735.7 1582.7,601.4 1582.8,744.2 1583.5,683.6 1583.7,572.8 1584.9,565.9 1585.0,679.7 1585.2,564.4 1585.5,761.8 1586.3,779.3 1586.4,613.9 1586.9,719.8 1587.0,600.7 1587.7,738.1 1587.9,584.1 1588.5,597.0 1588.9,665.8 1589.2,578.9 1589.6,730.3 1590.1,603.8 1590.6,691.3 1590.7,578.2 1591.3,723.7 1591.9,813.3 1592.0,601.4 1592.9,596.7 1593.0,703.6 1593.3,718.4 1593.7,596.0 1593.9,740.1 1594.5,611.0 1594.8,601.1 1595.4,683.8 1595.7,587.3 1596.2,775.8 1596.7,750.5 1597.0,599.8 1597.5,768.4 1597.6,573.4 1597.9,583.6 1598.0,690.1 1598.8,581.4 1599.2,715.5 1599.6,594.8 1599.7,680.6 1600.8,733.4 1601.0,587.2 1601.3,604.0 1601.6,932.0 1602.3,603.5 1602.4,817.2 1602.7,620.9 1603.4,724.9 1603.8,661.7 1604.2,571.1 1604.4,740.2 1604.8,575.8 1605.1,590.3 1605.6,680.1 1606.0,714.1 1606.5,564.3 1606.7,771.6 1606.9,584.9 1607.7,583.7 1608.0,679.3 1608.5,705.6 1608.9,604.8 1609.6,608.9 1609.7,719.2 1610.3,739.4 1610.4,564.7 1610.9,700.1 1611.3,588.9 1611.5,687.3 1612.2,594.2 1612.4,692.0 1612.7,621.9 1613.4,584.2 1613.8,711.8 1613.9,589.2 1614.2,699.4 1614.9,730.8 1615.2,616.7 1615.9,597.4 1616.2,749.4 1616.3,740.0 1616.6,622.9 1617.7,700.4 1617.8,611.3 1617.9,571.1 1618.1,815.9 1618.7,597.5 1619.1,784.4 1620.0,624.6 1620.2,736.7 1620.3,597.8 1620.5,717.2 1621.3,885.9 1621.8,621.2 1622.0,692.9 1622.5,545.5 1622.8,568.1 1623.4,707.7 1623.8,757.5 1624.0,577.8 1624.5,583.3 1624.9,742.8 1625.5,768.8 1625.7,582.4 1626.1,609.4 1626.3,802.5 1627.1,731.9 1627.3,595.0 1627.6,841.4 1628.2,611.5 1628.3,700.8 1628.9,564.0 1629.1,800.3 1629.8,585.4 1629.9,589.9 1630.2,708.5 1630.8,657.1 1631.1,560.3 1631.7,611.4 1632.0,735.6 1632.4,721.0 1632.5,554.6 1633.1,596.7 1633.4,736.0 1633.9,710.4 1634.3,617.7 1635.2,635.8 1635.3,732.3 1635.6,541.2 1636.1,843.9 1636.6,564.8 1636.7,683.3 1637.7,740.0 1637.8,559.8 1638.0,693.0 1638.1,616.1 1638.9,734.0 1639.1,601.6 1639.9,634.2 1640.0,832.8 1640.5,752.1 1640.9,593.8 1641.4,695.7 1641.6,609.6 1642.0,575.1 1642.2,683.2 1642.7,588.7 1643.2,706.8 1643.8,689.2 1643.9,629.1 1644.6,694.4 1645.0,599.0 1645.1,760.3 1645.4,620.2 1645.9,561.2 1646.1,722.7 1646.8,566.9 1647.0,698.7 1647.7,699.5 1648.1,596.2 1648.7,605.8 1648.9,679.4 1649.4,733.9 1649.6,576.1 1649.9,890.3 1650.0,596.3 1650.8,590.4 1651.1,848.3 1651.6,760.0 1652.0,616.1 1652.7,802.9 1652.8,627.5 1653.3,709.5 1653.5,584.2 1653.9,603.8 1654.4,680.3 1654.8,620.6 1655.3,725.1 1655.5,690.4 1656.2,647.9 1656.7,684.1 1657.0,583.7 1657.3,631.3 1657.8,738.0 1658.3,582.7 1658.4,788.2 1659.2,565.8 1659.4,718.6 1659.5,734.8 1659.6,627.1 1660.4,700.0 1660.9,579.9 1661.3,763.1 1661.5,649.6 1662.0,589.8 1662.3,683.7 1662.9,706.9 1663.2,632.4 1663.5,711.1 1664.1,638.9 1664.3,614.8 1664.9,780.5 1665.6,812.6 1665.7,629.3 1666.0,588.5 1666.4,756.2 1666.9,703.4 1667.4,608.4 1667.5,567.4 1667.8,712.5 1668.6,722.9 1668.9,596.6 1669.1,729.6 1669.6,633.1 1670.0,729.3 1670.3,572.0 1670.7,610.9 1670.9,753.5 1671.8,885.9 1672.2,633.8 1672.8,726.7 1673.0,587.7 1673.2,818.2 1673.5,632.3 1674.0,599.1 1674.6,703.3 1674.9,733.6 1675.3,606.1 1675.8,623.9 1676.2,743.2 1676.4,607.5 1676.7,720.1 1677.4,699.3 1677.8,612.6 1678.0,547.6 1678.5,749.2 1679.1,596.3 1679.2,733.3 1679.7,607.3 1680.2,834.3 1680.4,623.9 1680.7,679.1 1681.1,775.4 1681.4,586.3 1682.0,747.9 1682.3,597.0 1682.7,600.4 1683.0,729.9 1683.7,593.2 1683.9,740.3 1684.9,600.7 1685.0,717.9 1685.1,590.9 1685.5,734.6 1686.1,616.9 1686.5,786.7 1686.8,585.8 1687.2,724.6 1687.6,596.2 1688.2,696.5 1688.6,753.5 1688.9,595.0 1689.3,738.1 1689.7,619.3 1690.0,750.2 1690.2,564.3 1690.7,689.3 1691.0,551.9 1691.7,548.6 1692.2,695.4 1692.3,590.2 1692.6,744.3 1693.5,646.4 1693.8,762.3 1694.0,730.0 1694.4,646.3 1694.9,609.3 1695.4,700.6 1695.6,586.5 1696.1,760.8 1696.7,606.2 1696.8,732.0 1697.2,605.8 1697.3,739.5 1698.4,602.2 1698.5,710.9 1698.7,538.0 1698.9,751.5 1699.7,717.4 1700.1,605.0 1700.4,679.4 1701.0,584.8 1701.1,764.9 1701.6,590.3 1702.1,766.3 1702.3,562.2 1702.7,710.4 1702.8,580.6 1704.0,781.7 1704.1,595.4 1704.5,573.6 1704.7,993.4 1705.2,864.7 1705.7,620.9 1706.4,634.2 1706.5,739.2 1707.3,716.3 1707.4,603.0 1707.5,620.3 1708.2,693.5 1708.5,743.0 1708.8,643.5 1709.5,690.8 1709.6,575.2 1710.0,607.7 1710.1,716.1 1710.7,732.1 1711.3,561.5 1711.5,784.1 1711.7,608.7 1712.7,788.9 1712.8,557.6 1713.5,606.4 1713.8,798.6 1714.2,611.5 1714.5,788.5 1715.0,606.3 1715.4,749.9 1715.7,614.8 1716.1,863.7 1716.4,783.0 1716.9,625.5 1717.3,762.8 1717.7,649.9 1717.9,868.3 1718.3,638.4 1719.0,608.4 1719.3,709.2 1719.7,600.8 1720.2,722.0 1720.3,863.3 1720.8,642.1 1721.6,580.5 1721.7,850.8 1721.9,713.7 1722.0,599.8 1722.7,827.5 1723.4,599.2 1723.8,587.6 1724.0,863.0 1724.6,606.4 1724.7,854.0 1725.2,615.6 1725.7,749.2 1725.9,862.8 1726.0,634.6 1726.7,605.1 1727.2,742.6 1727.5,774.8 1727.9,593.0 1728.5,708.5 1728.6,615.5 1729.1,779.9 1729.2,550.7 1729.9,564.7 1730.2,745.2 1730.7,748.7 1731.3,602.8 1731.5,753.4 1731.7,597.8 1732.5,716.5 1732.8,604.1 1733.5,630.4 1733.7,775.0 1734.0,651.7 1734.1,725.0 1734.7,743.7 1735.2,600.7 1735.9,787.5 1736.0,630.1 1736.8,766.0 1736.9,602.3 1737.6,592.6 1737.8,753.8 1737.9,592.9 1738.5,705.1 1738.8,588.6 1739.4,861.5 1739.7,619.8 1740.2,715.1 1740.4,722.8 1741.0,630.9 1741.4,681.8 1741.7,611.2 1741.9,569.2 1742.1,741.0 1742.8,760.2 1743.1,616.9 1743.7,566.7 1744.1,733.6 1744.7,828.5 1744.8,570.7 1745.3,583.8 1745.7,753.0 1746.0,596.6 1746.4,749.1 1746.7,584.9 1747.2,747.3 1747.7,701.0 1747.8,603.4 1748.7,607.1 1748.8,704.3 1749.2,704.8 1749.3,549.5 1750.0,578.7 1750.1,728.4 1750.7,596.9 1751.4,840.2 1751.6,761.9 1751.9,600.4 1752.3,787.0 1752.6,571.9 1753.1,629.8 1753.8,688.7 1754.1,715.4 1754.4,594.1 1754.9,599.6 1755.1,722.0 1755.8,742.0 1756.2,611.0 1756.3,697.1 1756.6,604.3 1757.4,831.0 1757.7,568.5 1757.9,580.7 1758.1,743.9 1758.7,750.6 1759.2,568.3 1759.8,599.0 1760.0,735.0 1760.4,736.5 1760.9,559.3 1761.6,808.0 1761.8,545.9 1761.9,718.6 1762.4,584.3 1762.7,713.2 1763.1,599.7 1763.9,606.4 1764.0,744.7 1764.4,803.5 1764.8,590.2 1765.2,615.9 1765.8,762.4 1766.1,839.5 1766.4,597.8 1766.8,746.4 1767.0,590.8 1767.5,573.5 1767.6,732.4 1768.3,807.1 1768.6,570.6 1769.1,738.7 1769.8,590.6 1770.1,747.0 1770.4,571.4 1771.1,585.0 1771.3,712.1 1771.6,602.5 1771.7,725.0 1772.6,531.5 1772.7,720.7 1773.2,766.7 1773.7,605.4 1774.1,611.6 1774.6,687.6 1774.9,810.5 1775.0,589.4 1775.5,593.6 1775.8,773.2 1776.9,598.3 1777.0,687.9 1777.6,754.0 1777.8,633.7 1778.3,586.0 1778.4,760.8 1778.7,715.2 1779.1,592.1 1779.7,536.9 1779.8,782.9 1780.5,727.8 1780.8,587.6 1781.4,591.2 1781.6,698.8 1782.1,568.3 1782.3,738.0 1783.2,574.5 1783.3,718.6 1783.9,736.5 1784.0,587.8 1784.9,612.2 1785.0,719.7 1785.2,617.6 1785.4,681.7 1785.9,923.2 1786.3,605.3 1786.9,732.6 1787.1,616.0 1787.7,718.1 1788.2,575.3 1788.4,552.6 1788.7,803.1 1789.4,585.8 1789.6,723.7 1790.1,702.8 1790.6,611.3 1790.8,663.0 1791.2,797.7 1791.7,578.4 1792.1,708.1 1792.3,712.4 1793.0,581.5 1793.4,585.4 1793.5,720.1 1793.9,622.4 1794.4,801.3 1795.1,689.3 1795.2,622.7 1795.7,719.1 1796.1,616.9 1796.3,608.4 1796.8,1142.6 1797.1,747.4 1797.3,644.2 1798.4,751.7 1798.6,588.1 1798.8,545.0 1799.2,700.1 1799.7,726.8 1800.0,534.7 1800.3,760.5 1800.5,636.9 1801.5,612.9 1801.6,716.5 1802.0,597.4 1802.3,748.1 1803.2,612.4 1803.3,708.8 1803.9,736.4 1804.2,585.9 1804.3,730.2 1804.4,582.3 1805.3,574.8 1805.8,747.8 1806.0,754.1 1806.3,592.4 1807.0,728.1 1807.3,614.4 1807.6,618.7 1807.7,711.0 1808.7,617.8 1809.0,719.1 1809.4,747.4 1809.8,599.2 1810.0,656.2 1810.5,753.7 1810.7,567.9 1811.3,719.4 1811.7,715.0 1812.1,608.3 1812.4,752.5 1812.6,606.7 1813.2,682.5 1813.7,567.1 1814.4,762.9 1814.5,604.0 1814.8,641.2 1814.9,683.4 1815.5,706.4 1816.1,569.8 1816.6,700.9 1816.9,588.4 1817.1,750.1 1817.3,530.5 1818.0,687.0 1818.6,594.8 1818.8,568.7 1819.0,763.9 1819.5,702.8 1819.9,596.0 1820.4,709.8 1820.5,562.8 1821.6,530.4 1821.7,699.9 1821.9,544.3 1822.3,744.3 1822.8,638.3 1823.1,729.9 1823.6,593.0 1823.8,687.3 1824.8,599.5 1825.0,707.6 1825.1,695.5 1825.3,600.0 1826.1,761.9 1826.6,618.5 1827.0,707.7 1827.3,555.2 1827.6,708.1 1828.0,589.3 1828.5,593.7 1828.9,759.8 1829.2,609.0 1829.8,764.3 1830.0,583.8 1830.2,723.3 1831.1,716.6 1831.3,604.5 1832.0,793.8 1832.2,612.3 1832.5,818.8 1832.9,607.8 1833.1,731.9 1833.5,639.6 1834.1,870.5 1834.3,579.4 1834.8,678.8 1834.9,604.6 1836.0,768.3 1836.1,587.4 1836.9,737.8 1837.0,539.3 1837.1,601.9 1837.5,692.1 1838.0,760.8 1838.1,610.7 1838.9,755.3 1839.0,599.1 1839.8,599.2 1839.9,841.1 1840.7,704.0 1841.0,593.1 1841.1,594.6 1841.2,821.3 1842.0,587.8 1842.5,725.3 1842.8,580.1 1843.4,734.6 1843.7,699.6 1844.0,560.2 1844.6,600.0 1844.9,691.6 1845.6,745.1 1845.7,563.1 1846.0,595.3 1846.4,729.4 1846.8,627.0 1847.3,749.7 1847.9,763.1 1848.1,601.8 1848.6,608.4 1848.9,723.1 1849.2,659.8 1849.3,592.6 1849.9,733.9 1850.2,604.3 1851.0,597.8 1851.1,703.0 1851.9,725.7 1852.0,623.0 1852.3,580.0 1852.6,706.6 1853.1,584.1 1853.7,752.6 1854.1,756.7 1854.5,613.5 1855.0,584.9 1855.4,681.0 1855.7,669.9 1856.2,602.3 1856.3,590.9 1857.0,728.5 1857.2,586.1 1857.5,751.2 1858.2,571.9 1858.3,890.3 1858.8,618.4 1859.3,712.9 1859.7,603.0 1859.9,736.5 1860.5,627.5 1860.7,762.3 1861.5,636.5 1861.6,694.3 1862.1,569.3 1862.3,679.4 1862.8,568.6 1863.0,729.7 1863.5,578.0 1863.9,704.3 1864.3,605.7 1864.7,690.4 1865.1,646.9 1865.5,708.4 1866.3,665.2 1866.5,557.6 1867.0,561.0 1867.1,848.6 1867.5,687.3 1867.7,582.3 1868.7,702.7 1868.9,595.3 1869.4,706.3 1869.5,584.2 1870.3,560.6 1870.6,681.1 1870.7,767.6 1871.2,602.8 1872.0,576.7 1872.1,681.8 1872.7,594.2 1873.0,685.2 1873.4,681.1 1873.7,583.5 1874.0,594.7 1874.6,694.9 1875.2,701.2 1875.3,582.6 1875.9,585.9 1876.0,669.1 1876.4,746.6 1876.9,638.4 1877.6,576.9 1877.8,767.7 1878.1,682.3 1878.3,585.4 1878.7,562.2 1878.9,692.7 1879.7,786.6 1879.8,580.2 1880.3,616.4 1880.7,688.5 1881.3,577.7 1881.8,716.2 1882.5,773.0 1882.6,628.4 1882.8,628.3 1883.2,742.5 1883.5,711.8 1884.1,577.0 1884.9,590.5 1885.0,684.5 1885.4,591.5 1885.6,700.8 1886.1,610.5 1886.3,686.1 1886.7,751.4 1886.9,617.6" stroke="#f54343" stroke-width="5"/>
</g>
<rect x="323.5" y="1085.5" width="419.5" height="210.5" fill="#ececec" stroke="#a2a2a2" stroke-width="2.4"/>
<line x1="335" y1="1142.5" x2="514" y2="1142.5" stroke="#f54343" stroke-width="7" stroke-linecap="round"/>
<line x1="335" y1="1241.5" x2="514" y2="1241.5" stroke="#0768ad" stroke-width="7" stroke-linecap="round"/>
<g font-family="'Liberation Serif', 'Times New Roman', serif" font-size="80" fill="#000">
<text x="533" y="1169">Hop 1</text>
<text x="533" y="1268">Hop 2</text>
<text x="241.5" y="228.0" text-anchor="end">0</text>
<text x="241.5" y="465.3" text-anchor="end">-10</text>
<text x="241.5" y="702.6" text-anchor="end">-20</text>
<text x="241.5" y="939.9" text-anchor="end">-30</text>
<text x="241.5" y="1177.2" text-anchor="end">-40</text>
<text x="241.5" y="1414.5" text-anchor="end">-50</text>
<text x="266.0" y="1480" text-anchor="middle">0</text>
<text x="670.9" y="1480" text-anchor="middle">500</text>
<text x="1075.8" y="1480" text-anchor="middle">1000</text>
<text x="1480.6" y="1480" text-anchor="middle">1500</text>
<text x="1885.5" y="1480" text-anchor="middle">2000</text>
<text x="1074.8" y="1577" text-anchor="middle" font-size="81">Frequencncy(MHz)</text>
<text transform="translate(111 694.5) rotate(-90)" text-anchor="middle">Frequency Responce (a.u.)</text>
<text x="1928.5" y="317">-3dB</text>
</g>
</svg>
</body>
</html>
